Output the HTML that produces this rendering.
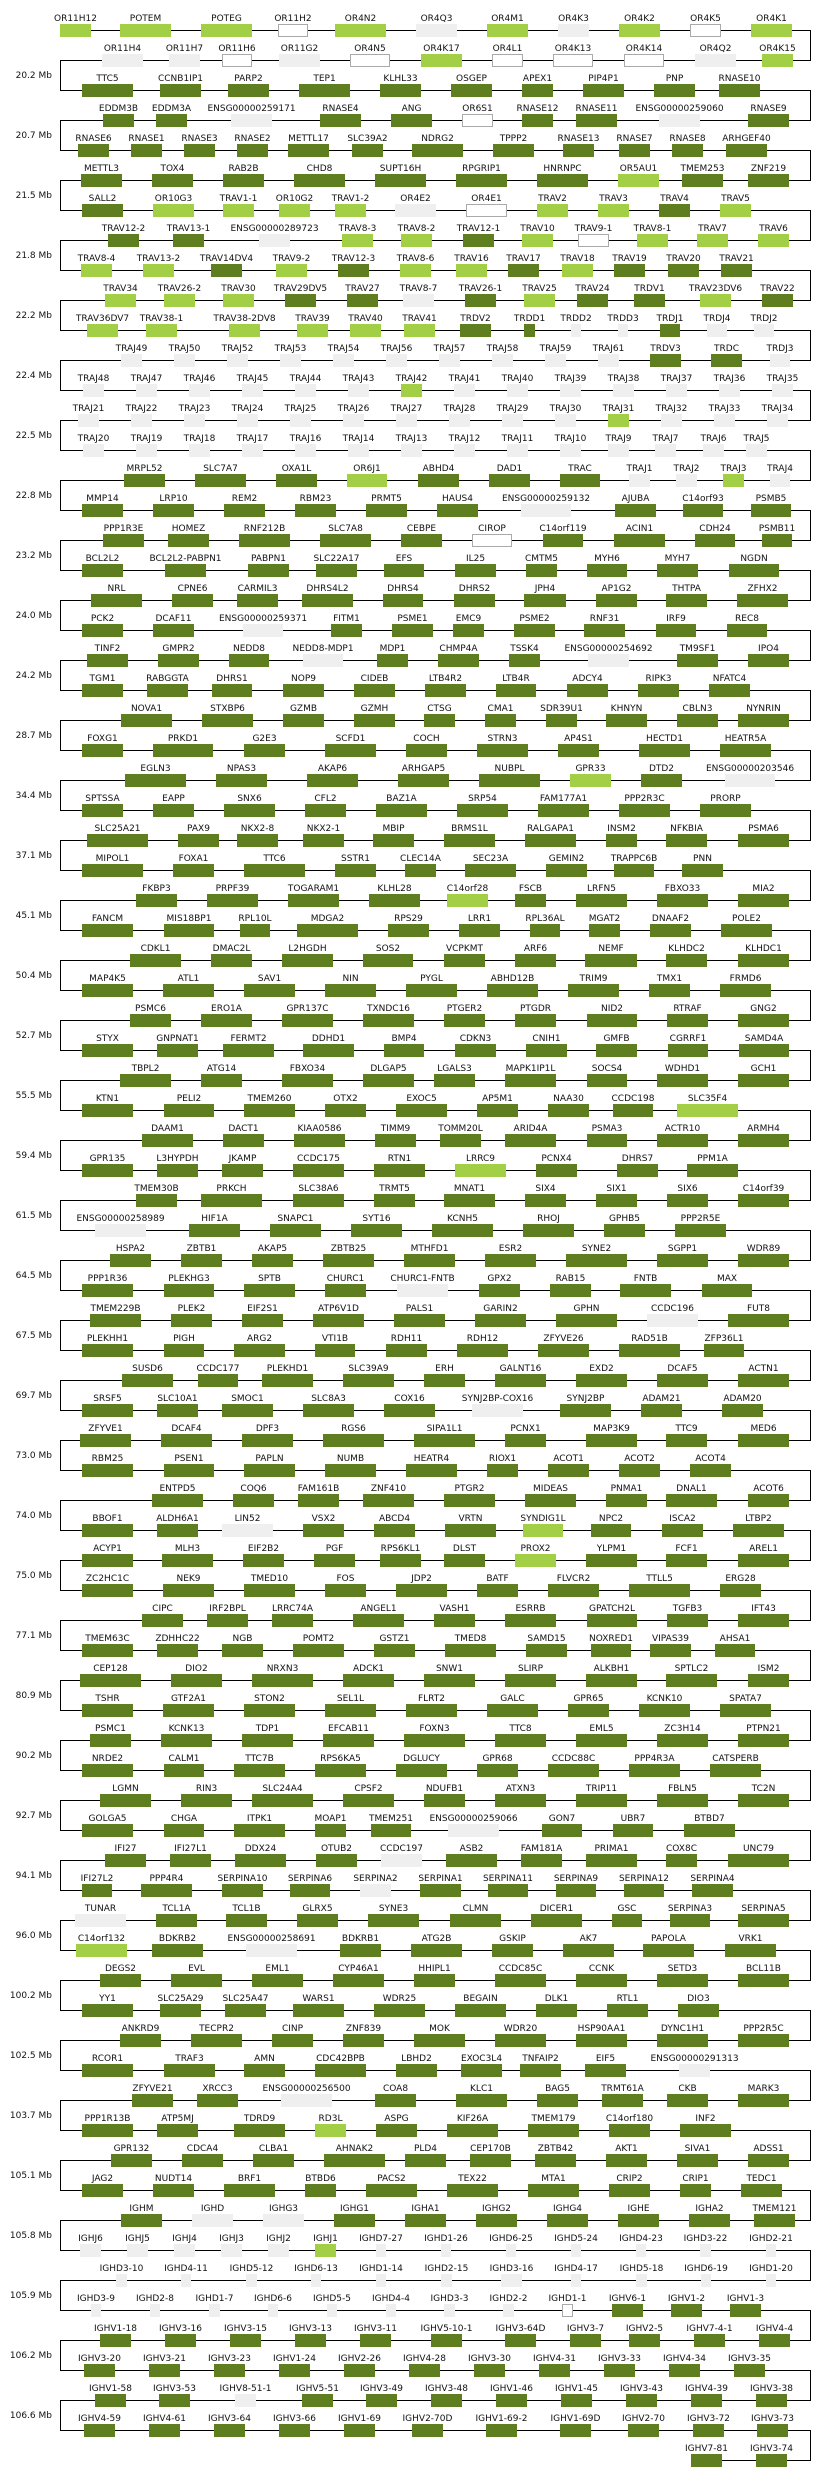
<!DOCTYPE html>
<html><head><meta charset="utf-8"><style>
html,body{margin:0;padding:0;background:#fff}
svg{display:block}
text{font-family:"DejaVu Sans",Verdana,sans-serif;font-size:9px;text-anchor:middle;fill:#111}
text.mb{text-anchor:end}
.d{fill:#5f7e1f}.l{fill:#a3cf47}.g{fill:#efefef}.w{fill:#fff;stroke:#aaa;stroke-width:1}
</style></head><body>
<svg width="820" height="2472" viewBox="0 0 820 2472" xmlns="http://www.w3.org/2000/svg">
<path d="M60.5 30.5H810.5V60.5H60.5V90.5H810.5V120.5H60.5V150.5H810.5V180.5H60.5V210.5H810.5V240.5H60.5V270.5H810.5V300.5H60.5V330.5H810.5V360.5H60.5V390.5H810.5V420.5H60.5V450.5H810.5V480.5H60.5V510.5H810.5V540.5H60.5V570.5H810.5V600.5H60.5V630.5H810.5V660.5H60.5V690.5H810.5V720.5H60.5V750.5H810.5V780.5H60.5V810.5H810.5V840.5H60.5V870.5H810.5V900.5H60.5V930.5H810.5V960.5H60.5V990.5H810.5V1020.5H60.5V1050.5H810.5V1080.5H60.5V1110.5H810.5V1140.5H60.5V1170.5H810.5V1200.5H60.5V1230.5H810.5V1260.5H60.5V1290.5H810.5V1320.5H60.5V1350.5H810.5V1380.5H60.5V1410.5H810.5V1440.5H60.5V1470.5H810.5V1500.5H60.5V1530.5H810.5V1560.5H60.5V1590.5H810.5V1620.5H60.5V1650.5H810.5V1680.5H60.5V1710.5H810.5V1740.5H60.5V1770.5H810.5V1800.5H60.5V1830.5H810.5V1860.5H60.5V1890.5H810.5V1920.5H60.5V1950.5H810.5V1980.5H60.5V2010.5H810.5V2040.5H60.5V2070.5H810.5V2100.5H60.5V2130.5H810.5V2160.5H60.5V2190.5H810.5V2220.5H60.5V2250.5H810.5V2280.5H60.5V2310.5H810.5V2340.5H60.5V2370.5H810.5V2400.5H60.5V2430.5H810.5V2460.5H691" fill="none" stroke="#000" stroke-width="1"/>

<text class="mb" x="52" y="78">20.2 Mb</text>
<text class="mb" x="52" y="138">20.7 Mb</text>
<text class="mb" x="52" y="198">21.5 Mb</text>
<text class="mb" x="52" y="258">21.8 Mb</text>
<text class="mb" x="52" y="318">22.2 Mb</text>
<text class="mb" x="52" y="378">22.4 Mb</text>
<text class="mb" x="52" y="438">22.5 Mb</text>
<text class="mb" x="52" y="498">22.8 Mb</text>
<text class="mb" x="52" y="558">23.2 Mb</text>
<text class="mb" x="52" y="618">24.0 Mb</text>
<text class="mb" x="52" y="678">24.2 Mb</text>
<text class="mb" x="52" y="738">28.7 Mb</text>
<text class="mb" x="52" y="798">34.4 Mb</text>
<text class="mb" x="52" y="858">37.1 Mb</text>
<text class="mb" x="52" y="918">45.1 Mb</text>
<text class="mb" x="52" y="978">50.4 Mb</text>
<text class="mb" x="52" y="1038">52.7 Mb</text>
<text class="mb" x="52" y="1098">55.5 Mb</text>
<text class="mb" x="52" y="1158">59.4 Mb</text>
<text class="mb" x="52" y="1218">61.5 Mb</text>
<text class="mb" x="52" y="1278">64.5 Mb</text>
<text class="mb" x="52" y="1338">67.5 Mb</text>
<text class="mb" x="52" y="1398">69.7 Mb</text>
<text class="mb" x="52" y="1458">73.0 Mb</text>
<text class="mb" x="52" y="1518">74.0 Mb</text>
<text class="mb" x="52" y="1578">75.0 Mb</text>
<text class="mb" x="52" y="1638">77.1 Mb</text>
<text class="mb" x="52" y="1698">80.9 Mb</text>
<text class="mb" x="52" y="1758">90.2 Mb</text>
<text class="mb" x="52" y="1818">92.7 Mb</text>
<text class="mb" x="52" y="1878">94.1 Mb</text>
<text class="mb" x="52" y="1938">96.0 Mb</text>
<text class="mb" x="52" y="1998">100.2 Mb</text>
<text class="mb" x="52" y="2058">102.5 Mb</text>
<text class="mb" x="52" y="2118">103.7 Mb</text>
<text class="mb" x="52" y="2178">105.1 Mb</text>
<text class="mb" x="52" y="2238">105.8 Mb</text>
<text class="mb" x="52" y="2298">105.9 Mb</text>
<text class="mb" x="52" y="2358">106.2 Mb</text>
<text class="mb" x="52" y="2418">106.6 Mb</text>

<g transform="translate(0,30)">
<rect class="l" x="60" y="-6" width="31" height="13"/><text x="75.5" y="-9">OR11H12</text>
<rect class="l" x="120" y="-6" width="51" height="13"/><text x="145.5" y="-9">POTEM</text>
<rect class="l" x="201" y="-6" width="51" height="13"/><text x="226.5" y="-9">POTEG</text>
<rect class="w" x="278.5" y="-5.5" width="29" height="12"/><text x="293" y="-9">OR11H2</text>
<rect class="l" x="335" y="-6" width="51" height="13"/><text x="360.5" y="-9">OR4N2</text>
<rect class="g" x="416" y="-6" width="41" height="13"/><text x="436.5" y="-9">OR4Q3</text>
<rect class="l" x="487" y="-6" width="41" height="13"/><text x="507.5" y="-9">OR4M1</text>
<rect class="g" x="558" y="-6" width="31" height="13"/><text x="573.5" y="-9">OR4K3</text>
<rect class="l" x="619" y="-6" width="41" height="13"/><text x="639.5" y="-9">OR4K2</text>
<rect class="w" x="690.5" y="-5.5" width="30" height="12"/><text x="705.5" y="-9">OR4K5</text>
<rect class="l" x="751" y="-6" width="41" height="13"/><text x="771.5" y="-9">OR4K1</text>
</g>
<g transform="translate(0,60)">
<rect class="g" x="102" y="-6" width="41" height="13"/><text x="122.5" y="-9">OR11H4</text>
<rect class="g" x="169" y="-6" width="31" height="13"/><text x="184.5" y="-9">OR11H7</text>
<rect class="w" x="222.5" y="-5.5" width="29" height="12"/><text x="237" y="-9">OR11H6</text>
<rect class="g" x="279" y="-6" width="41" height="13"/><text x="299.5" y="-9">OR11G2</text>
<rect class="w" x="350.5" y="-5.5" width="39" height="12"/><text x="370" y="-9">OR4N5</text>
<rect class="l" x="421" y="-6" width="41" height="13"/><text x="441.5" y="-9">OR4K17</text>
<rect class="w" x="492.5" y="-5.5" width="30" height="12"/><text x="507.5" y="-9">OR4L1</text>
<rect class="w" x="553.5" y="-5.5" width="39" height="12"/><text x="573" y="-9">OR4K13</text>
<rect class="w" x="624.5" y="-5.5" width="39" height="12"/><text x="644" y="-9">OR4K14</text>
<rect class="g" x="695" y="-6" width="41" height="13"/><text x="715.5" y="-9">OR4Q2</text>
<rect class="l" x="762" y="-6" width="31" height="13"/><text x="777.5" y="-9">OR4K15</text>
</g>
<g transform="translate(0,90)">
<rect class="d" x="82" y="-6" width="51" height="13"/><text x="107.5" y="-9">TTC5</text>
<rect class="d" x="160" y="-6" width="41" height="13"/><text x="180.5" y="-9">CCNB1IP1</text>
<rect class="d" x="228" y="-6" width="41" height="13"/><text x="248.5" y="-9">PARP2</text>
<rect class="d" x="299" y="-6" width="51" height="13"/><text x="324.5" y="-9">TEP1</text>
<rect class="d" x="380" y="-6" width="41" height="13"/><text x="400.5" y="-9">KLHL33</text>
<rect class="d" x="451" y="-6" width="41" height="13"/><text x="471.5" y="-9">OSGEP</text>
<rect class="d" x="522" y="-6" width="31" height="13"/><text x="537.5" y="-9">APEX1</text>
<rect class="d" x="583" y="-6" width="41" height="13"/><text x="603.5" y="-9">PIP4P1</text>
<rect class="d" x="654" y="-6" width="41" height="13"/><text x="674.5" y="-9">PNP</text>
<rect class="d" x="719" y="-6" width="41" height="13"/><text x="739.5" y="-9">RNASE10</text>
</g>
<g transform="translate(0,120)">
<rect class="d" x="103" y="-6" width="31" height="13"/><text x="118.5" y="-9">EDDM3B</text>
<rect class="d" x="156" y="-6" width="31" height="13"/><text x="171.5" y="-9">EDDM3A</text>
<rect class="g" x="231" y="-6" width="41" height="13"/><text x="251.5" y="-9">ENSG00000259171</text>
<rect class="d" x="320" y="-6" width="41" height="13"/><text x="340.5" y="-9">RNASE4</text>
<rect class="d" x="391" y="-6" width="41" height="13"/><text x="411.5" y="-9">ANG</text>
<rect class="w" x="462.5" y="-5.5" width="30" height="12"/><text x="477.5" y="-9">OR6S1</text>
<rect class="d" x="522" y="-6" width="31" height="13"/><text x="537.5" y="-9">RNASE12</text>
<rect class="d" x="576" y="-6" width="41" height="13"/><text x="596.5" y="-9">RNASE11</text>
<rect class="g" x="659" y="-6" width="41" height="13"/><text x="679.5" y="-9">ENSG00000259060</text>
<rect class="d" x="748" y="-6" width="41" height="13"/><text x="768.5" y="-9">RNASE9</text>
</g>
<g transform="translate(0,150)">
<rect class="d" x="78" y="-6" width="31" height="13"/><text x="93.5" y="-9">RNASE6</text>
<rect class="d" x="131" y="-6" width="31" height="13"/><text x="146.5" y="-9">RNASE1</text>
<rect class="d" x="184" y="-6" width="31" height="13"/><text x="199.5" y="-9">RNASE3</text>
<rect class="d" x="237" y="-6" width="31" height="13"/><text x="252.5" y="-9">RNASE2</text>
<rect class="d" x="288" y="-6" width="41" height="13"/><text x="308.5" y="-9">METTL17</text>
<rect class="d" x="352" y="-6" width="31" height="13"/><text x="367.5" y="-9">SLC39A2</text>
<rect class="d" x="412" y="-6" width="51" height="13"/><text x="437.5" y="-9">NDRG2</text>
<rect class="d" x="493" y="-6" width="41" height="13"/><text x="513.5" y="-9">TPPP2</text>
<rect class="d" x="563" y="-6" width="31" height="13"/><text x="578.5" y="-9">RNASE13</text>
<rect class="d" x="619" y="-6" width="31" height="13"/><text x="634.5" y="-9">RNASE7</text>
<rect class="d" x="672" y="-6" width="31" height="13"/><text x="687.5" y="-9">RNASE8</text>
<rect class="d" x="726" y="-6" width="41" height="13"/><text x="746.5" y="-9">ARHGEF40</text>
</g>
<g transform="translate(0,180)">
<rect class="d" x="81" y="-6" width="41" height="13"/><text x="101.5" y="-9">METTL3</text>
<rect class="d" x="152" y="-6" width="41" height="13"/><text x="172.5" y="-9">TOX4</text>
<rect class="d" x="223" y="-6" width="41" height="13"/><text x="243.5" y="-9">RAB2B</text>
<rect class="d" x="294" y="-6" width="51" height="13"/><text x="319.5" y="-9">CHD8</text>
<rect class="d" x="375" y="-6" width="51" height="13"/><text x="400.5" y="-9">SUPT16H</text>
<rect class="d" x="456" y="-6" width="51" height="13"/><text x="481.5" y="-9">RPGRIP1</text>
<rect class="d" x="537" y="-6" width="51" height="13"/><text x="562.5" y="-9">HNRNPC</text>
<rect class="l" x="618" y="-6" width="41" height="13"/><text x="638.5" y="-9">OR5AU1</text>
<rect class="d" x="682" y="-6" width="41" height="13"/><text x="702.5" y="-9">TMEM253</text>
<rect class="d" x="748" y="-6" width="41" height="13"/><text x="768.5" y="-9">ZNF219</text>
</g>
<g transform="translate(0,210)">
<rect class="d" x="82" y="-6" width="41" height="13"/><text x="102.5" y="-9">SALL2</text>
<rect class="l" x="153" y="-6" width="41" height="13"/><text x="173.5" y="-9">OR10G3</text>
<rect class="l" x="223" y="-6" width="31" height="13"/><text x="238.5" y="-9">TRAV1-1</text>
<rect class="l" x="279" y="-6" width="31" height="13"/><text x="294.5" y="-9">OR10G2</text>
<rect class="l" x="335" y="-6" width="31" height="13"/><text x="350.5" y="-9">TRAV1-2</text>
<rect class="g" x="395" y="-6" width="41" height="13"/><text x="415.5" y="-9">OR4E2</text>
<rect class="w" x="466.5" y="-5.5" width="40" height="12"/><text x="486.5" y="-9">OR4E1</text>
<rect class="l" x="537" y="-6" width="31" height="13"/><text x="552.5" y="-9">TRAV2</text>
<rect class="l" x="598" y="-6" width="31" height="13"/><text x="613.5" y="-9">TRAV3</text>
<rect class="d" x="659" y="-6" width="31" height="13"/><text x="674.5" y="-9">TRAV4</text>
<rect class="l" x="720" y="-6" width="31" height="13"/><text x="735.5" y="-9">TRAV5</text>
</g>
<g transform="translate(0,240)">
<rect class="d" x="108" y="-6" width="31" height="13"/><text x="123.5" y="-9">TRAV12-2</text>
<rect class="d" x="173" y="-6" width="31" height="13"/><text x="188.5" y="-9">TRAV13-1</text>
<rect class="g" x="259" y="-6" width="31" height="13"/><text x="274.5" y="-9">ENSG00000289723</text>
<rect class="l" x="342" y="-6" width="31" height="13"/><text x="357.5" y="-9">TRAV8-3</text>
<rect class="l" x="401" y="-6" width="31" height="13"/><text x="416.5" y="-9">TRAV8-2</text>
<rect class="d" x="463" y="-6" width="31" height="13"/><text x="478.5" y="-9">TRAV12-1</text>
<rect class="l" x="522" y="-6" width="31" height="13"/><text x="537.5" y="-9">TRAV10</text>
<rect class="w" x="578.5" y="-5.5" width="30" height="12"/><text x="593.5" y="-9">TRAV9-1</text>
<rect class="l" x="637" y="-6" width="31" height="13"/><text x="652.5" y="-9">TRAV8-1</text>
<rect class="l" x="697" y="-6" width="31" height="13"/><text x="712.5" y="-9">TRAV7</text>
<rect class="l" x="758" y="-6" width="31" height="13"/><text x="773.5" y="-9">TRAV6</text>
</g>
<g transform="translate(0,270)">
<rect class="l" x="81" y="-6" width="31" height="13"/><text x="96.5" y="-9">TRAV8-4</text>
<rect class="l" x="143" y="-6" width="31" height="13"/><text x="158.5" y="-9">TRAV13-2</text>
<rect class="d" x="211" y="-6" width="31" height="13"/><text x="226.5" y="-9">TRAV14DV4</text>
<rect class="l" x="276" y="-6" width="31" height="13"/><text x="291.5" y="-9">TRAV9-2</text>
<rect class="d" x="338" y="-6" width="31" height="13"/><text x="353.5" y="-9">TRAV12-3</text>
<rect class="l" x="400" y="-6" width="31" height="13"/><text x="415.5" y="-9">TRAV8-6</text>
<rect class="l" x="456" y="-6" width="31" height="13"/><text x="471.5" y="-9">TRAV16</text>
<rect class="d" x="508" y="-6" width="31" height="13"/><text x="523.5" y="-9">TRAV17</text>
<rect class="l" x="562" y="-6" width="31" height="13"/><text x="577.5" y="-9">TRAV18</text>
<rect class="d" x="614" y="-6" width="31" height="13"/><text x="629.5" y="-9">TRAV19</text>
<rect class="d" x="668" y="-6" width="31" height="13"/><text x="683.5" y="-9">TRAV20</text>
<rect class="d" x="721" y="-6" width="31" height="13"/><text x="736.5" y="-9">TRAV21</text>
</g>
<g transform="translate(0,300)">
<rect class="l" x="105" y="-6" width="31" height="13"/><text x="120.5" y="-9">TRAV34</text>
<rect class="l" x="164" y="-6" width="31" height="13"/><text x="179.5" y="-9">TRAV26-2</text>
<rect class="l" x="223" y="-6" width="31" height="13"/><text x="238.5" y="-9">TRAV30</text>
<rect class="d" x="285" y="-6" width="31" height="13"/><text x="300.5" y="-9">TRAV29DV5</text>
<rect class="d" x="347" y="-6" width="31" height="13"/><text x="362.5" y="-9">TRAV27</text>
<rect class="g" x="403" y="-6" width="31" height="13"/><text x="418.5" y="-9">TRAV8-7</text>
<rect class="d" x="465" y="-6" width="31" height="13"/><text x="480.5" y="-9">TRAV26-1</text>
<rect class="l" x="524" y="-6" width="31" height="13"/><text x="539.5" y="-9">TRAV25</text>
<rect class="d" x="577" y="-6" width="31" height="13"/><text x="592.5" y="-9">TRAV24</text>
<rect class="d" x="634" y="-6" width="31" height="13"/><text x="649.5" y="-9">TRDV1</text>
<rect class="l" x="700" y="-6" width="31" height="13"/><text x="715.5" y="-9">TRAV23DV6</text>
<rect class="d" x="762" y="-6" width="31" height="13"/><text x="777.5" y="-9">TRAV22</text>
</g>
<g transform="translate(0,330)">
<rect class="l" x="87" y="-6" width="31" height="13"/><text x="102.5" y="-9">TRAV36DV7</text>
<rect class="l" x="146" y="-6" width="31" height="13"/><text x="161.5" y="-9">TRAV38-1</text>
<rect class="l" x="229" y="-6" width="31" height="13"/><text x="244.5" y="-9">TRAV38-2DV8</text>
<rect class="l" x="297" y="-6" width="31" height="13"/><text x="312.5" y="-9">TRAV39</text>
<rect class="l" x="350" y="-6" width="31" height="13"/><text x="365.5" y="-9">TRAV40</text>
<rect class="l" x="404" y="-6" width="31" height="13"/><text x="419.5" y="-9">TRAV41</text>
<rect class="d" x="460" y="-6" width="31" height="13"/><text x="475.5" y="-9">TRDV2</text>
<rect class="d" x="524" y="-6" width="11" height="13"/><text x="529.5" y="-9">TRDD1</text>
<rect class="g" x="571" y="-6" width="10" height="13"/><text x="576" y="-9">TRDD2</text>
<rect class="g" x="618" y="-6" width="10" height="13"/><text x="623" y="-9">TRDD3</text>
<rect class="d" x="660" y="-6" width="20" height="13"/><text x="670" y="-9">TRDJ1</text>
<rect class="g" x="707" y="-6" width="20" height="13"/><text x="717" y="-9">TRDJ4</text>
<rect class="g" x="754" y="-6" width="20" height="13"/><text x="764" y="-9">TRDJ2</text>
</g>
<g transform="translate(0,360)">
<rect class="g" x="121" y="-6" width="21" height="13"/><text x="131.5" y="-9">TRAJ49</text>
<rect class="g" x="174" y="-6" width="21" height="13"/><text x="184.5" y="-9">TRAJ50</text>
<rect class="g" x="227" y="-6" width="21" height="13"/><text x="237.5" y="-9">TRAJ52</text>
<rect class="g" x="280" y="-6" width="21" height="13"/><text x="290.5" y="-9">TRAJ53</text>
<rect class="g" x="333" y="-6" width="21" height="13"/><text x="343.5" y="-9">TRAJ54</text>
<rect class="g" x="386" y="-6" width="21" height="13"/><text x="396.5" y="-9">TRAJ56</text>
<rect class="g" x="439" y="-6" width="21" height="13"/><text x="449.5" y="-9">TRAJ57</text>
<rect class="g" x="492" y="-6" width="21" height="13"/><text x="502.5" y="-9">TRAJ58</text>
<rect class="g" x="545" y="-6" width="21" height="13"/><text x="555.5" y="-9">TRAJ59</text>
<rect class="g" x="598" y="-6" width="21" height="13"/><text x="608.5" y="-9">TRAJ61</text>
<rect class="d" x="650" y="-6" width="31" height="13"/><text x="665.5" y="-9">TRDV3</text>
<rect class="d" x="711" y="-6" width="31" height="13"/><text x="726.5" y="-9">TRDC</text>
<rect class="g" x="770" y="-6" width="20" height="13"/><text x="780" y="-9">TRDJ3</text>
</g>
<g transform="translate(0,390)">
<rect class="g" x="83" y="-6" width="21" height="13"/><text x="93.5" y="-9">TRAJ48</text>
<rect class="g" x="136" y="-6" width="21" height="13"/><text x="146.5" y="-9">TRAJ47</text>
<rect class="g" x="189" y="-6" width="21" height="13"/><text x="199.5" y="-9">TRAJ46</text>
<rect class="g" x="242" y="-6" width="21" height="13"/><text x="252.5" y="-9">TRAJ45</text>
<rect class="g" x="295" y="-6" width="21" height="13"/><text x="305.5" y="-9">TRAJ44</text>
<rect class="g" x="348" y="-6" width="21" height="13"/><text x="358.5" y="-9">TRAJ43</text>
<rect class="l" x="401" y="-6" width="21" height="13"/><text x="411.5" y="-9">TRAJ42</text>
<rect class="g" x="454" y="-6" width="21" height="13"/><text x="464.5" y="-9">TRAJ41</text>
<rect class="g" x="507" y="-6" width="21" height="13"/><text x="517.5" y="-9">TRAJ40</text>
<rect class="g" x="560" y="-6" width="21" height="13"/><text x="570.5" y="-9">TRAJ39</text>
<rect class="g" x="613" y="-6" width="21" height="13"/><text x="623.5" y="-9">TRAJ38</text>
<rect class="g" x="666" y="-6" width="21" height="13"/><text x="676.5" y="-9">TRAJ37</text>
<rect class="g" x="719" y="-6" width="21" height="13"/><text x="729.5" y="-9">TRAJ36</text>
<rect class="g" x="772" y="-6" width="21" height="13"/><text x="782.5" y="-9">TRAJ35</text>
</g>
<g transform="translate(0,420)">
<rect class="g" x="78" y="-6" width="21" height="13"/><text x="88.5" y="-9">TRAJ21</text>
<rect class="g" x="131" y="-6" width="21" height="13"/><text x="141.5" y="-9">TRAJ22</text>
<rect class="g" x="184" y="-6" width="21" height="13"/><text x="194.5" y="-9">TRAJ23</text>
<rect class="g" x="237" y="-6" width="21" height="13"/><text x="247.5" y="-9">TRAJ24</text>
<rect class="g" x="290" y="-6" width="21" height="13"/><text x="300.5" y="-9">TRAJ25</text>
<rect class="g" x="343" y="-6" width="21" height="13"/><text x="353.5" y="-9">TRAJ26</text>
<rect class="g" x="396" y="-6" width="21" height="13"/><text x="406.5" y="-9">TRAJ27</text>
<rect class="g" x="449" y="-6" width="21" height="13"/><text x="459.5" y="-9">TRAJ28</text>
<rect class="g" x="502" y="-6" width="21" height="13"/><text x="512.5" y="-9">TRAJ29</text>
<rect class="g" x="555" y="-6" width="21" height="13"/><text x="565.5" y="-9">TRAJ30</text>
<rect class="l" x="608" y="-6" width="21" height="13"/><text x="618.5" y="-9">TRAJ31</text>
<rect class="g" x="661" y="-6" width="21" height="13"/><text x="671.5" y="-9">TRAJ32</text>
<rect class="g" x="714" y="-6" width="21" height="13"/><text x="724.5" y="-9">TRAJ33</text>
<rect class="g" x="767" y="-6" width="21" height="13"/><text x="777.5" y="-9">TRAJ34</text>
</g>
<g transform="translate(0,450)">
<rect class="g" x="83" y="-6" width="21" height="13"/><text x="93.5" y="-9">TRAJ20</text>
<rect class="g" x="136" y="-6" width="21" height="13"/><text x="146.5" y="-9">TRAJ19</text>
<rect class="g" x="189" y="-6" width="21" height="13"/><text x="199.5" y="-9">TRAJ18</text>
<rect class="g" x="242" y="-6" width="21" height="13"/><text x="252.5" y="-9">TRAJ17</text>
<rect class="g" x="295" y="-6" width="21" height="13"/><text x="305.5" y="-9">TRAJ16</text>
<rect class="g" x="348" y="-6" width="21" height="13"/><text x="358.5" y="-9">TRAJ14</text>
<rect class="g" x="401" y="-6" width="21" height="13"/><text x="411.5" y="-9">TRAJ13</text>
<rect class="g" x="454" y="-6" width="21" height="13"/><text x="464.5" y="-9">TRAJ12</text>
<rect class="g" x="507" y="-6" width="21" height="13"/><text x="517.5" y="-9">TRAJ11</text>
<rect class="g" x="560" y="-6" width="21" height="13"/><text x="570.5" y="-9">TRAJ10</text>
<rect class="g" x="608" y="-6" width="21" height="13"/><text x="618.5" y="-9">TRAJ9</text>
<rect class="g" x="655" y="-6" width="21" height="13"/><text x="665.5" y="-9">TRAJ7</text>
<rect class="g" x="703" y="-6" width="21" height="13"/><text x="713.5" y="-9">TRAJ6</text>
<rect class="g" x="746" y="-6" width="21" height="13"/><text x="756.5" y="-9">TRAJ5</text>
</g>
<g transform="translate(0,480)">
<rect class="d" x="124" y="-6" width="41" height="13"/><text x="144.5" y="-9">MRPL52</text>
<rect class="d" x="195" y="-6" width="51" height="13"/><text x="220.5" y="-9">SLC7A7</text>
<rect class="d" x="276" y="-6" width="41" height="13"/><text x="296.5" y="-9">OXA1L</text>
<rect class="l" x="347" y="-6" width="40" height="13"/><text x="367" y="-9">OR6J1</text>
<rect class="d" x="418" y="-6" width="41" height="13"/><text x="438.5" y="-9">ABHD4</text>
<rect class="d" x="489" y="-6" width="41" height="13"/><text x="509.5" y="-9">DAD1</text>
<rect class="d" x="560" y="-6" width="40" height="13"/><text x="580" y="-9">TRAC</text>
<rect class="g" x="629" y="-6" width="21" height="13"/><text x="639.5" y="-9">TRAJ1</text>
<rect class="g" x="676" y="-6" width="21" height="13"/><text x="686.5" y="-9">TRAJ2</text>
<rect class="l" x="723" y="-6" width="21" height="13"/><text x="733.5" y="-9">TRAJ3</text>
<rect class="g" x="770" y="-6" width="20" height="13"/><text x="780" y="-9">TRAJ4</text>
</g>
<g transform="translate(0,510)">
<rect class="d" x="82" y="-6" width="41" height="13"/><text x="102.5" y="-9">MMP14</text>
<rect class="d" x="153" y="-6" width="41" height="13"/><text x="173.5" y="-9">LRP10</text>
<rect class="d" x="224" y="-6" width="41" height="13"/><text x="244.5" y="-9">REM2</text>
<rect class="d" x="295" y="-6" width="41" height="13"/><text x="315.5" y="-9">RBM23</text>
<rect class="d" x="366" y="-6" width="41" height="13"/><text x="386.5" y="-9">PRMT5</text>
<rect class="d" x="437" y="-6" width="41" height="13"/><text x="457.5" y="-9">HAUS4</text>
<rect class="g" x="521" y="-6" width="50" height="13"/><text x="546" y="-9">ENSG00000259132</text>
<rect class="d" x="615" y="-6" width="41" height="13"/><text x="635.5" y="-9">AJUBA</text>
<rect class="d" x="683" y="-6" width="40" height="13"/><text x="703" y="-9">C14orf93</text>
<rect class="d" x="751" y="-6" width="40" height="13"/><text x="771" y="-9">PSMB5</text>
</g>
<g transform="translate(0,540)">
<rect class="d" x="103" y="-6" width="41" height="13"/><text x="123.5" y="-9">PPP1R3E</text>
<rect class="d" x="168" y="-6" width="41" height="13"/><text x="188.5" y="-9">HOMEZ</text>
<rect class="d" x="239" y="-6" width="51" height="13"/><text x="264.5" y="-9">RNF212B</text>
<rect class="d" x="320" y="-6" width="51" height="13"/><text x="345.5" y="-9">SLC7A8</text>
<rect class="d" x="401" y="-6" width="41" height="13"/><text x="421.5" y="-9">CEBPE</text>
<rect class="w" x="472.5" y="-5.5" width="39" height="12"/><text x="492" y="-9">CIROP</text>
<rect class="d" x="543" y="-6" width="40" height="13"/><text x="563" y="-9">C14orf119</text>
<rect class="d" x="614" y="-6" width="51" height="13"/><text x="639.5" y="-9">ACIN1</text>
<rect class="d" x="695" y="-6" width="40" height="13"/><text x="715" y="-9">CDH24</text>
<rect class="d" x="762" y="-6" width="30" height="13"/><text x="777" y="-9">PSMB11</text>
</g>
<g transform="translate(0,570)">
<rect class="d" x="82" y="-6" width="41" height="13"/><text x="102.5" y="-9">BCL2L2</text>
<rect class="d" x="165" y="-6" width="41" height="13"/><text x="185.5" y="-9">BCL2L2-PABPN1</text>
<rect class="d" x="248" y="-6" width="41" height="13"/><text x="268.5" y="-9">PABPN1</text>
<rect class="d" x="316" y="-6" width="41" height="13"/><text x="336.5" y="-9">SLC22A17</text>
<rect class="d" x="384" y="-6" width="40" height="13"/><text x="404" y="-9">EFS</text>
<rect class="d" x="455" y="-6" width="41" height="13"/><text x="475.5" y="-9">IL25</text>
<rect class="d" x="526" y="-6" width="31" height="13"/><text x="541.5" y="-9">CMTM5</text>
<rect class="d" x="587" y="-6" width="40" height="13"/><text x="607" y="-9">MYH6</text>
<rect class="d" x="657" y="-6" width="41" height="13"/><text x="677.5" y="-9">MYH7</text>
<rect class="d" x="729" y="-6" width="50" height="13"/><text x="754" y="-9">NGDN</text>
</g>
<g transform="translate(0,600)">
<rect class="d" x="91" y="-6" width="51" height="13"/><text x="116.5" y="-9">NRL</text>
<rect class="d" x="172" y="-6" width="41" height="13"/><text x="192.5" y="-9">CPNE6</text>
<rect class="d" x="237" y="-6" width="41" height="13"/><text x="257.5" y="-9">CARMIL3</text>
<rect class="d" x="302" y="-6" width="51" height="13"/><text x="327.5" y="-9">DHRS4L2</text>
<rect class="d" x="383" y="-6" width="40" height="13"/><text x="403" y="-9">DHRS4</text>
<rect class="d" x="454" y="-6" width="41" height="13"/><text x="474.5" y="-9">DHRS2</text>
<rect class="d" x="524" y="-6" width="42" height="13"/><text x="545" y="-9">JPH4</text>
<rect class="d" x="596" y="-6" width="41" height="13"/><text x="616.5" y="-9">AP1G2</text>
<rect class="d" x="666" y="-6" width="41" height="13"/><text x="686.5" y="-9">THTPA</text>
<rect class="d" x="737" y="-6" width="51" height="13"/><text x="762.5" y="-9">ZFHX2</text>
</g>
<g transform="translate(0,630)">
<rect class="d" x="82" y="-6" width="41" height="13"/><text x="102.5" y="-9">PCK2</text>
<rect class="d" x="153" y="-6" width="41" height="13"/><text x="173.5" y="-9">DCAF11</text>
<rect class="g" x="243" y="-6" width="40" height="13"/><text x="263" y="-9">ENSG00000259371</text>
<rect class="d" x="331" y="-6" width="31" height="13"/><text x="346.5" y="-9">FITM1</text>
<rect class="d" x="392" y="-6" width="41" height="13"/><text x="412.5" y="-9">PSME1</text>
<rect class="d" x="453" y="-6" width="31" height="13"/><text x="468.5" y="-9">EMC9</text>
<rect class="d" x="514" y="-6" width="41" height="13"/><text x="534.5" y="-9">PSME2</text>
<rect class="d" x="584" y="-6" width="41" height="13"/><text x="604.5" y="-9">RNF31</text>
<rect class="d" x="656" y="-6" width="40" height="13"/><text x="676" y="-9">IRF9</text>
<rect class="d" x="727" y="-6" width="40" height="13"/><text x="747" y="-9">REC8</text>
</g>
<g transform="translate(0,660)">
<rect class="d" x="87" y="-6" width="41" height="13"/><text x="107.5" y="-9">TINF2</text>
<rect class="d" x="158" y="-6" width="41" height="13"/><text x="178.5" y="-9">GMPR2</text>
<rect class="d" x="229" y="-6" width="40" height="13"/><text x="249" y="-9">NEDD8</text>
<rect class="g" x="303" y="-6" width="40" height="13"/><text x="323" y="-9">NEDD8-MDP1</text>
<rect class="d" x="377" y="-6" width="31" height="13"/><text x="392.5" y="-9">MDP1</text>
<rect class="d" x="438" y="-6" width="41" height="13"/><text x="458.5" y="-9">CHMP4A</text>
<rect class="d" x="509" y="-6" width="31" height="13"/><text x="524.5" y="-9">TSSK4</text>
<rect class="g" x="588" y="-6" width="41" height="13"/><text x="608.5" y="-9">ENSG00000254692</text>
<rect class="d" x="677" y="-6" width="41" height="13"/><text x="697.5" y="-9">TM9SF1</text>
<rect class="d" x="748" y="-6" width="41" height="13"/><text x="768.5" y="-9">IPO4</text>
</g>
<g transform="translate(0,690)">
<rect class="d" x="82" y="-6" width="41" height="13"/><text x="102.5" y="-9">TGM1</text>
<rect class="d" x="147" y="-6" width="41" height="13"/><text x="167.5" y="-9">RABGGTA</text>
<rect class="d" x="212" y="-6" width="40" height="13"/><text x="232" y="-9">DHRS1</text>
<rect class="d" x="283" y="-6" width="41" height="13"/><text x="303.5" y="-9">NOP9</text>
<rect class="d" x="354" y="-6" width="41" height="13"/><text x="374.5" y="-9">CIDEB</text>
<rect class="d" x="425" y="-6" width="41" height="13"/><text x="445.5" y="-9">LTB4R2</text>
<rect class="d" x="496" y="-6" width="40" height="13"/><text x="516" y="-9">LTB4R</text>
<rect class="d" x="567" y="-6" width="41" height="13"/><text x="587.5" y="-9">ADCY4</text>
<rect class="d" x="638" y="-6" width="41" height="13"/><text x="658.5" y="-9">RIPK3</text>
<rect class="d" x="709" y="-6" width="41" height="13"/><text x="729.5" y="-9">NFATC4</text>
</g>
<g transform="translate(0,720)">
<rect class="d" x="121" y="-6" width="51" height="13"/><text x="146.5" y="-9">NOVA1</text>
<rect class="d" x="202" y="-6" width="51" height="13"/><text x="227.5" y="-9">STXBP6</text>
<rect class="d" x="283" y="-6" width="41" height="13"/><text x="303.5" y="-9">GZMB</text>
<rect class="d" x="354" y="-6" width="41" height="13"/><text x="374.5" y="-9">GZMH</text>
<rect class="d" x="424" y="-6" width="31" height="13"/><text x="439.5" y="-9">CTSG</text>
<rect class="d" x="485" y="-6" width="31" height="13"/><text x="500.5" y="-9">CMA1</text>
<rect class="d" x="546" y="-6" width="31" height="13"/><text x="561.5" y="-9">SDR39U1</text>
<rect class="d" x="606" y="-6" width="41" height="13"/><text x="626.5" y="-9">KHNYN</text>
<rect class="d" x="677" y="-6" width="41" height="13"/><text x="697.5" y="-9">CBLN3</text>
<rect class="d" x="738" y="-6" width="51" height="13"/><text x="763.5" y="-9">NYNRIN</text>
</g>
<g transform="translate(0,750)">
<rect class="d" x="82" y="-6" width="41" height="13"/><text x="102.5" y="-9">FOXG1</text>
<rect class="d" x="153" y="-6" width="60" height="13"/><text x="183" y="-9">PRKD1</text>
<rect class="d" x="244" y="-6" width="41" height="13"/><text x="264.5" y="-9">G2E3</text>
<rect class="d" x="325" y="-6" width="51" height="13"/><text x="350.5" y="-9">SCFD1</text>
<rect class="d" x="406" y="-6" width="41" height="13"/><text x="426.5" y="-9">COCH</text>
<rect class="d" x="477" y="-6" width="51" height="13"/><text x="502.5" y="-9">STRN3</text>
<rect class="d" x="558" y="-6" width="41" height="13"/><text x="578.5" y="-9">AP4S1</text>
<rect class="d" x="639" y="-6" width="51" height="13"/><text x="664.5" y="-9">HECTD1</text>
<rect class="d" x="720" y="-6" width="51" height="13"/><text x="745.5" y="-9">HEATR5A</text>
</g>
<g transform="translate(0,780)">
<rect class="d" x="125" y="-6" width="61" height="13"/><text x="155.5" y="-9">EGLN3</text>
<rect class="d" x="216" y="-6" width="51" height="13"/><text x="241.5" y="-9">NPAS3</text>
<rect class="d" x="307" y="-6" width="51" height="13"/><text x="332.5" y="-9">AKAP6</text>
<rect class="d" x="398" y="-6" width="51" height="13"/><text x="423.5" y="-9">ARHGAP5</text>
<rect class="d" x="479" y="-6" width="61" height="13"/><text x="509.5" y="-9">NUBPL</text>
<rect class="l" x="570" y="-6" width="41" height="13"/><text x="590.5" y="-9">GPR33</text>
<rect class="d" x="641" y="-6" width="41" height="13"/><text x="661.5" y="-9">DTD2</text>
<rect class="g" x="725" y="-6" width="50" height="13"/><text x="750" y="-9">ENSG00000203546</text>
</g>
<g transform="translate(0,810)">
<rect class="d" x="82" y="-6" width="41" height="13"/><text x="102.5" y="-9">SPTSSA</text>
<rect class="d" x="153" y="-6" width="41" height="13"/><text x="173.5" y="-9">EAPP</text>
<rect class="d" x="224" y="-6" width="51" height="13"/><text x="249.5" y="-9">SNX6</text>
<rect class="d" x="305" y="-6" width="41" height="13"/><text x="325.5" y="-9">CFL2</text>
<rect class="d" x="376" y="-6" width="51" height="13"/><text x="401.5" y="-9">BAZ1A</text>
<rect class="d" x="457" y="-6" width="51" height="13"/><text x="482.5" y="-9">SRP54</text>
<rect class="d" x="538" y="-6" width="51" height="13"/><text x="563.5" y="-9">FAM177A1</text>
<rect class="d" x="619" y="-6" width="51" height="13"/><text x="644.5" y="-9">PPP2R3C</text>
<rect class="d" x="700" y="-6" width="51" height="13"/><text x="725.5" y="-9">PRORP</text>
</g>
<g transform="translate(0,840)">
<rect class="d" x="87" y="-6" width="61" height="13"/><text x="117.5" y="-9">SLC25A21</text>
<rect class="d" x="178" y="-6" width="41" height="13"/><text x="198.5" y="-9">PAX9</text>
<rect class="d" x="237" y="-6" width="41" height="13"/><text x="257.5" y="-9">NKX2-8</text>
<rect class="d" x="303" y="-6" width="41" height="13"/><text x="323.5" y="-9">NKX2-1</text>
<rect class="d" x="373" y="-6" width="41" height="13"/><text x="393.5" y="-9">MBIP</text>
<rect class="d" x="444" y="-6" width="51" height="13"/><text x="469.5" y="-9">BRMS1L</text>
<rect class="d" x="525" y="-6" width="51" height="13"/><text x="550.5" y="-9">RALGAPA1</text>
<rect class="d" x="606" y="-6" width="31" height="13"/><text x="621.5" y="-9">INSM2</text>
<rect class="d" x="666" y="-6" width="41" height="13"/><text x="686.5" y="-9">NFKBIA</text>
<rect class="d" x="738" y="-6" width="51" height="13"/><text x="763.5" y="-9">PSMA6</text>
</g>
<g transform="translate(0,870)">
<rect class="d" x="82" y="-6" width="61" height="13"/><text x="112.5" y="-9">MIPOL1</text>
<rect class="d" x="173" y="-6" width="41" height="13"/><text x="193.5" y="-9">FOXA1</text>
<rect class="d" x="244" y="-6" width="61" height="13"/><text x="274.5" y="-9">TTC6</text>
<rect class="d" x="335" y="-6" width="41" height="13"/><text x="355.5" y="-9">SSTR1</text>
<rect class="d" x="405" y="-6" width="31" height="13"/><text x="420.5" y="-9">CLEC14A</text>
<rect class="d" x="465" y="-6" width="51" height="13"/><text x="490.5" y="-9">SEC23A</text>
<rect class="d" x="546" y="-6" width="41" height="13"/><text x="566.5" y="-9">GEMIN2</text>
<rect class="d" x="614" y="-6" width="40" height="13"/><text x="634" y="-9">TRAPPC6B</text>
<rect class="d" x="682" y="-6" width="41" height="13"/><text x="702.5" y="-9">PNN</text>
</g>
<g transform="translate(0,900)">
<rect class="d" x="136" y="-6" width="41" height="13"/><text x="156.5" y="-9">FKBP3</text>
<rect class="d" x="207" y="-6" width="51" height="13"/><text x="232.5" y="-9">PRPF39</text>
<rect class="d" x="288" y="-6" width="51" height="13"/><text x="313.5" y="-9">TOGARAM1</text>
<rect class="d" x="369" y="-6" width="51" height="13"/><text x="394.5" y="-9">KLHL28</text>
<rect class="l" x="447" y="-6" width="41" height="13"/><text x="467.5" y="-9">C14orf28</text>
<rect class="d" x="515" y="-6" width="31" height="13"/><text x="530.5" y="-9">FSCB</text>
<rect class="d" x="576" y="-6" width="51" height="13"/><text x="601.5" y="-9">LRFN5</text>
<rect class="d" x="657" y="-6" width="51" height="13"/><text x="682.5" y="-9">FBXO33</text>
<rect class="d" x="738" y="-6" width="51" height="13"/><text x="763.5" y="-9">MIA2</text>
</g>
<g transform="translate(0,930)">
<rect class="d" x="82" y="-6" width="51" height="13"/><text x="107.5" y="-9">FANCM</text>
<rect class="d" x="164" y="-6" width="50" height="13"/><text x="189" y="-9">MIS18BP1</text>
<rect class="d" x="240" y="-6" width="30" height="13"/><text x="255" y="-9">RPL10L</text>
<rect class="d" x="297" y="-6" width="61" height="13"/><text x="327.5" y="-9">MDGA2</text>
<rect class="d" x="388" y="-6" width="41" height="13"/><text x="408.5" y="-9">RPS29</text>
<rect class="d" x="459" y="-6" width="41" height="13"/><text x="479.5" y="-9">LRR1</text>
<rect class="d" x="530" y="-6" width="30" height="13"/><text x="545" y="-9">RPL36AL</text>
<rect class="d" x="589" y="-6" width="31" height="13"/><text x="604.5" y="-9">MGAT2</text>
<rect class="d" x="650" y="-6" width="41" height="13"/><text x="670.5" y="-9">DNAAF2</text>
<rect class="d" x="721" y="-6" width="51" height="13"/><text x="746.5" y="-9">POLE2</text>
</g>
<g transform="translate(0,960)">
<rect class="d" x="130" y="-6" width="51" height="13"/><text x="155.5" y="-9">CDKL1</text>
<rect class="d" x="211" y="-6" width="41" height="13"/><text x="231.5" y="-9">DMAC2L</text>
<rect class="d" x="282" y="-6" width="51" height="13"/><text x="307.5" y="-9">L2HGDH</text>
<rect class="d" x="363" y="-6" width="50" height="13"/><text x="388" y="-9">SOS2</text>
<rect class="d" x="444" y="-6" width="41" height="13"/><text x="464.5" y="-9">VCPKMT</text>
<rect class="d" x="515" y="-6" width="41" height="13"/><text x="535.5" y="-9">ARF6</text>
<rect class="d" x="585" y="-6" width="52" height="13"/><text x="611" y="-9">NEMF</text>
<rect class="d" x="666" y="-6" width="41" height="13"/><text x="686.5" y="-9">KLHDC2</text>
<rect class="d" x="738" y="-6" width="51" height="13"/><text x="763.5" y="-9">KLHDC1</text>
</g>
<g transform="translate(0,990)">
<rect class="d" x="82" y="-6" width="51" height="13"/><text x="107.5" y="-9">MAP4K5</text>
<rect class="d" x="163" y="-6" width="51" height="13"/><text x="188.5" y="-9">ATL1</text>
<rect class="d" x="244" y="-6" width="51" height="13"/><text x="269.5" y="-9">SAV1</text>
<rect class="d" x="325" y="-6" width="51" height="13"/><text x="350.5" y="-9">NIN</text>
<rect class="d" x="406" y="-6" width="51" height="13"/><text x="431.5" y="-9">PYGL</text>
<rect class="d" x="487" y="-6" width="51" height="13"/><text x="512.5" y="-9">ABHD12B</text>
<rect class="d" x="568" y="-6" width="51" height="13"/><text x="593.5" y="-9">TRIM9</text>
<rect class="d" x="649" y="-6" width="41" height="13"/><text x="669.5" y="-9">TMX1</text>
<rect class="d" x="720" y="-6" width="51" height="13"/><text x="745.5" y="-9">FRMD6</text>
</g>
<g transform="translate(0,1020)">
<rect class="d" x="130" y="-6" width="41" height="13"/><text x="150.5" y="-9">PSMC6</text>
<rect class="d" x="201" y="-6" width="51" height="13"/><text x="226.5" y="-9">ERO1A</text>
<rect class="d" x="282" y="-6" width="51" height="13"/><text x="307.5" y="-9">GPR137C</text>
<rect class="d" x="363" y="-6" width="51" height="13"/><text x="388.5" y="-9">TXNDC16</text>
<rect class="d" x="444" y="-6" width="41" height="13"/><text x="464.5" y="-9">PTGER2</text>
<rect class="d" x="515" y="-6" width="41" height="13"/><text x="535.5" y="-9">PTGDR</text>
<rect class="d" x="587" y="-6" width="50" height="13"/><text x="612" y="-9">NID2</text>
<rect class="d" x="667" y="-6" width="41" height="13"/><text x="687.5" y="-9">RTRAF</text>
<rect class="d" x="738" y="-6" width="51" height="13"/><text x="763.5" y="-9">GNG2</text>
</g>
<g transform="translate(0,1050)">
<rect class="d" x="82" y="-6" width="51" height="13"/><text x="107.5" y="-9">STYX</text>
<rect class="d" x="157" y="-6" width="41" height="13"/><text x="177.5" y="-9">GNPNAT1</text>
<rect class="d" x="223" y="-6" width="51" height="13"/><text x="248.5" y="-9">FERMT2</text>
<rect class="d" x="303" y="-6" width="51" height="13"/><text x="328.5" y="-9">DDHD1</text>
<rect class="d" x="384" y="-6" width="40" height="13"/><text x="404" y="-9">BMP4</text>
<rect class="d" x="455" y="-6" width="41" height="13"/><text x="475.5" y="-9">CDKN3</text>
<rect class="d" x="526" y="-6" width="41" height="13"/><text x="546.5" y="-9">CNIH1</text>
<rect class="d" x="596" y="-6" width="41" height="13"/><text x="616.5" y="-9">GMFB</text>
<rect class="d" x="668" y="-6" width="40" height="13"/><text x="688" y="-9">CGRRF1</text>
<rect class="d" x="739" y="-6" width="50" height="13"/><text x="764" y="-9">SAMD4A</text>
</g>
<g transform="translate(0,1080)">
<rect class="d" x="120" y="-6" width="51" height="13"/><text x="145.5" y="-9">TBPL2</text>
<rect class="d" x="201" y="-6" width="41" height="13"/><text x="221.5" y="-9">ATG14</text>
<rect class="d" x="282" y="-6" width="51" height="13"/><text x="307.5" y="-9">FBXO34</text>
<rect class="d" x="363" y="-6" width="51" height="13"/><text x="388.5" y="-9">DLGAP5</text>
<rect class="d" x="434" y="-6" width="41" height="13"/><text x="454.5" y="-9">LGALS3</text>
<rect class="d" x="505" y="-6" width="51" height="13"/><text x="530.5" y="-9">MAPK1IP1L</text>
<rect class="d" x="587" y="-6" width="40" height="13"/><text x="607" y="-9">SOCS4</text>
<rect class="d" x="657" y="-6" width="51" height="13"/><text x="682.5" y="-9">WDHD1</text>
<rect class="d" x="738" y="-6" width="51" height="13"/><text x="763.5" y="-9">GCH1</text>
</g>
<g transform="translate(0,1110)">
<rect class="d" x="82" y="-6" width="51" height="13"/><text x="107.5" y="-9">KTN1</text>
<rect class="d" x="164" y="-6" width="50" height="13"/><text x="189" y="-9">PELI2</text>
<rect class="d" x="244" y="-6" width="51" height="13"/><text x="269.5" y="-9">TMEM260</text>
<rect class="d" x="325" y="-6" width="41" height="13"/><text x="345.5" y="-9">OTX2</text>
<rect class="d" x="396" y="-6" width="51" height="13"/><text x="421.5" y="-9">EXOC5</text>
<rect class="d" x="477" y="-6" width="41" height="13"/><text x="497.5" y="-9">AP5M1</text>
<rect class="d" x="548" y="-6" width="41" height="13"/><text x="568.5" y="-9">NAA30</text>
<rect class="d" x="613" y="-6" width="40" height="13"/><text x="633" y="-9">CCDC198</text>
<rect class="l" x="677" y="-6" width="61" height="13"/><text x="707.5" y="-9">SLC35F4</text>
</g>
<g transform="translate(0,1140)">
<rect class="d" x="142" y="-6" width="51" height="13"/><text x="167.5" y="-9">DAAM1</text>
<rect class="d" x="223" y="-6" width="41" height="13"/><text x="243.5" y="-9">DACT1</text>
<rect class="d" x="294" y="-6" width="51" height="13"/><text x="319.5" y="-9">KIAA0586</text>
<rect class="d" x="375" y="-6" width="41" height="13"/><text x="395.5" y="-9">TIMM9</text>
<rect class="d" x="440" y="-6" width="41" height="13"/><text x="460.5" y="-9">TOMM20L</text>
<rect class="d" x="505" y="-6" width="51" height="13"/><text x="530.5" y="-9">ARID4A</text>
<rect class="d" x="587" y="-6" width="40" height="13"/><text x="607" y="-9">PSMA3</text>
<rect class="d" x="657" y="-6" width="51" height="13"/><text x="682.5" y="-9">ACTR10</text>
<rect class="d" x="738" y="-6" width="51" height="13"/><text x="763.5" y="-9">ARMH4</text>
</g>
<g transform="translate(0,1170)">
<rect class="d" x="82" y="-6" width="51" height="13"/><text x="107.5" y="-9">GPR135</text>
<rect class="d" x="157" y="-6" width="41" height="13"/><text x="177.5" y="-9">L3HYPDH</text>
<rect class="d" x="222" y="-6" width="41" height="13"/><text x="242.5" y="-9">JKAMP</text>
<rect class="d" x="293" y="-6" width="51" height="13"/><text x="318.5" y="-9">CCDC175</text>
<rect class="d" x="374" y="-6" width="51" height="13"/><text x="399.5" y="-9">RTN1</text>
<rect class="l" x="455" y="-6" width="51" height="13"/><text x="480.5" y="-9">LRRC9</text>
<rect class="d" x="536" y="-6" width="41" height="13"/><text x="556.5" y="-9">PCNX4</text>
<rect class="d" x="617" y="-6" width="41" height="13"/><text x="637.5" y="-9">DHRS7</text>
<rect class="d" x="687" y="-6" width="51" height="13"/><text x="712.5" y="-9">PPM1A</text>
</g>
<g transform="translate(0,1200)">
<rect class="d" x="136" y="-6" width="41" height="13"/><text x="156.5" y="-9">TMEM30B</text>
<rect class="d" x="201" y="-6" width="61" height="13"/><text x="231.5" y="-9">PRKCH</text>
<rect class="d" x="293" y="-6" width="51" height="13"/><text x="318.5" y="-9">SLC38A6</text>
<rect class="d" x="374" y="-6" width="41" height="13"/><text x="394.5" y="-9">TRMT5</text>
<rect class="d" x="444" y="-6" width="51" height="13"/><text x="469.5" y="-9">MNAT1</text>
<rect class="d" x="525" y="-6" width="41" height="13"/><text x="545.5" y="-9">SIX4</text>
<rect class="d" x="596" y="-6" width="41" height="13"/><text x="616.5" y="-9">SIX1</text>
<rect class="d" x="667" y="-6" width="41" height="13"/><text x="687.5" y="-9">SIX6</text>
<rect class="d" x="738" y="-6" width="51" height="13"/><text x="763.5" y="-9">C14orf39</text>
</g>
<g transform="translate(0,1230)">
<rect class="g" x="95" y="-6" width="51" height="13"/><text x="120.5" y="-9">ENSG00000258989</text>
<rect class="d" x="189" y="-6" width="51" height="13"/><text x="214.5" y="-9">HIF1A</text>
<rect class="d" x="270" y="-6" width="51" height="13"/><text x="295.5" y="-9">SNAPC1</text>
<rect class="d" x="351" y="-6" width="51" height="13"/><text x="376.5" y="-9">SYT16</text>
<rect class="d" x="432" y="-6" width="61" height="13"/><text x="462.5" y="-9">KCNH5</text>
<rect class="d" x="523" y="-6" width="51" height="13"/><text x="548.5" y="-9">RHOJ</text>
<rect class="d" x="604" y="-6" width="41" height="13"/><text x="624.5" y="-9">GPHB5</text>
<rect class="d" x="675" y="-6" width="51" height="13"/><text x="700.5" y="-9">PPP2R5E</text>
</g>
<g transform="translate(0,1260)">
<rect class="d" x="110" y="-6" width="41" height="13"/><text x="130.5" y="-9">HSPA2</text>
<rect class="d" x="181" y="-6" width="41" height="13"/><text x="201.5" y="-9">ZBTB1</text>
<rect class="d" x="252" y="-6" width="41" height="13"/><text x="272.5" y="-9">AKAP5</text>
<rect class="d" x="323" y="-6" width="51" height="13"/><text x="348.5" y="-9">ZBTB25</text>
<rect class="d" x="404" y="-6" width="51" height="13"/><text x="429.5" y="-9">MTHFD1</text>
<rect class="d" x="485" y="-6" width="51" height="13"/><text x="510.5" y="-9">ESR2</text>
<rect class="d" x="566" y="-6" width="61" height="13"/><text x="596.5" y="-9">SYNE2</text>
<rect class="d" x="657" y="-6" width="51" height="13"/><text x="682.5" y="-9">SGPP1</text>
<rect class="d" x="738" y="-6" width="51" height="13"/><text x="763.5" y="-9">WDR89</text>
</g>
<g transform="translate(0,1290)">
<rect class="d" x="82" y="-6" width="51" height="13"/><text x="107.5" y="-9">PPP1R36</text>
<rect class="d" x="164" y="-6" width="50" height="13"/><text x="189" y="-9">PLEKHG3</text>
<rect class="d" x="244" y="-6" width="51" height="13"/><text x="269.5" y="-9">SPTB</text>
<rect class="d" x="325" y="-6" width="41" height="13"/><text x="345.5" y="-9">CHURC1</text>
<rect class="g" x="397" y="-6" width="51" height="13"/><text x="422.5" y="-9">CHURC1-FNTB</text>
<rect class="d" x="479" y="-6" width="41" height="13"/><text x="499.5" y="-9">GPX2</text>
<rect class="d" x="550" y="-6" width="41" height="13"/><text x="570.5" y="-9">RAB15</text>
<rect class="d" x="620" y="-6" width="51" height="13"/><text x="645.5" y="-9">FNTB</text>
<rect class="d" x="702" y="-6" width="50" height="13"/><text x="727" y="-9">MAX</text>
</g>
<g transform="translate(0,1320)">
<rect class="d" x="90" y="-6" width="51" height="13"/><text x="115.5" y="-9">TMEM229B</text>
<rect class="d" x="171" y="-6" width="41" height="13"/><text x="191.5" y="-9">PLEK2</text>
<rect class="d" x="242" y="-6" width="41" height="13"/><text x="262.5" y="-9">EIF2S1</text>
<rect class="d" x="313" y="-6" width="51" height="13"/><text x="338.5" y="-9">ATP6V1D</text>
<rect class="d" x="394" y="-6" width="51" height="13"/><text x="419.5" y="-9">PALS1</text>
<rect class="d" x="475" y="-6" width="51" height="13"/><text x="500.5" y="-9">GARIN2</text>
<rect class="d" x="556" y="-6" width="61" height="13"/><text x="586.5" y="-9">GPHN</text>
<rect class="g" x="647" y="-6" width="51" height="13"/><text x="672.5" y="-9">CCDC196</text>
<rect class="d" x="728" y="-6" width="61" height="13"/><text x="758.5" y="-9">FUT8</text>
</g>
<g transform="translate(0,1350)">
<rect class="d" x="82" y="-6" width="51" height="13"/><text x="107.5" y="-9">PLEKHH1</text>
<rect class="d" x="164" y="-6" width="40" height="13"/><text x="184" y="-9">PIGH</text>
<rect class="d" x="234" y="-6" width="51" height="13"/><text x="259.5" y="-9">ARG2</text>
<rect class="d" x="315" y="-6" width="40" height="13"/><text x="335" y="-9">VTI1B</text>
<rect class="d" x="386" y="-6" width="41" height="13"/><text x="406.5" y="-9">RDH11</text>
<rect class="d" x="457" y="-6" width="51" height="13"/><text x="482.5" y="-9">RDH12</text>
<rect class="d" x="538" y="-6" width="51" height="13"/><text x="563.5" y="-9">ZFYVE26</text>
<rect class="d" x="619" y="-6" width="61" height="13"/><text x="649.5" y="-9">RAD51B</text>
<rect class="d" x="704" y="-6" width="40" height="13"/><text x="724" y="-9">ZFP36L1</text>
</g>
<g transform="translate(0,1380)">
<rect class="d" x="122" y="-6" width="51" height="13"/><text x="147.5" y="-9">SUSD6</text>
<rect class="d" x="198" y="-6" width="40" height="13"/><text x="218" y="-9">CCDC177</text>
<rect class="d" x="262" y="-6" width="51" height="13"/><text x="287.5" y="-9">PLEKHD1</text>
<rect class="d" x="343" y="-6" width="51" height="13"/><text x="368.5" y="-9">SLC39A9</text>
<rect class="d" x="424" y="-6" width="41" height="13"/><text x="444.5" y="-9">ERH</text>
<rect class="d" x="495" y="-6" width="51" height="13"/><text x="520.5" y="-9">GALNT16</text>
<rect class="d" x="576" y="-6" width="51" height="13"/><text x="601.5" y="-9">EXD2</text>
<rect class="d" x="657" y="-6" width="51" height="13"/><text x="682.5" y="-9">DCAF5</text>
<rect class="d" x="738" y="-6" width="51" height="13"/><text x="763.5" y="-9">ACTN1</text>
</g>
<g transform="translate(0,1410)">
<rect class="d" x="82" y="-6" width="51" height="13"/><text x="107.5" y="-9">SRSF5</text>
<rect class="d" x="157" y="-6" width="41" height="13"/><text x="177.5" y="-9">SLC10A1</text>
<rect class="d" x="222" y="-6" width="51" height="13"/><text x="247.5" y="-9">SMOC1</text>
<rect class="d" x="303" y="-6" width="51" height="13"/><text x="328.5" y="-9">SLC8A3</text>
<rect class="d" x="384" y="-6" width="51" height="13"/><text x="409.5" y="-9">COX16</text>
<rect class="g" x="472" y="-6" width="51" height="13"/><text x="497.5" y="-9">SYNJ2BP-COX16</text>
<rect class="d" x="560" y="-6" width="51" height="13"/><text x="585.5" y="-9">SYNJ2BP</text>
<rect class="d" x="641" y="-6" width="41" height="13"/><text x="661.5" y="-9">ADAM21</text>
<rect class="d" x="722" y="-6" width="41" height="13"/><text x="742.5" y="-9">ADAM20</text>
</g>
<g transform="translate(0,1440)">
<rect class="d" x="80" y="-6" width="51" height="13"/><text x="105.5" y="-9">ZFYVE1</text>
<rect class="d" x="161" y="-6" width="51" height="13"/><text x="186.5" y="-9">DCAF4</text>
<rect class="d" x="242" y="-6" width="51" height="13"/><text x="267.5" y="-9">DPF3</text>
<rect class="d" x="323" y="-6" width="61" height="13"/><text x="353.5" y="-9">RGS6</text>
<rect class="d" x="414" y="-6" width="61" height="13"/><text x="444.5" y="-9">SIPA1L1</text>
<rect class="d" x="505" y="-6" width="41" height="13"/><text x="525.5" y="-9">PCNX1</text>
<rect class="d" x="586" y="-6" width="51" height="13"/><text x="611.5" y="-9">MAP3K9</text>
<rect class="d" x="666" y="-6" width="41" height="13"/><text x="686.5" y="-9">TTC9</text>
<rect class="d" x="738" y="-6" width="51" height="13"/><text x="763.5" y="-9">MED6</text>
</g>
<g transform="translate(0,1470)">
<rect class="d" x="82" y="-6" width="51" height="13"/><text x="107.5" y="-9">RBM25</text>
<rect class="d" x="164" y="-6" width="50" height="13"/><text x="189" y="-9">PSEN1</text>
<rect class="d" x="244" y="-6" width="51" height="13"/><text x="269.5" y="-9">PAPLN</text>
<rect class="d" x="325" y="-6" width="51" height="13"/><text x="350.5" y="-9">NUMB</text>
<rect class="d" x="406" y="-6" width="51" height="13"/><text x="431.5" y="-9">HEATR4</text>
<rect class="d" x="487" y="-6" width="31" height="13"/><text x="502.5" y="-9">RIOX1</text>
<rect class="d" x="548" y="-6" width="41" height="13"/><text x="568.5" y="-9">ACOT1</text>
<rect class="d" x="619" y="-6" width="41" height="13"/><text x="639.5" y="-9">ACOT2</text>
<rect class="d" x="690" y="-6" width="41" height="13"/><text x="710.5" y="-9">ACOT4</text>
</g>
<g transform="translate(0,1500)">
<rect class="d" x="152" y="-6" width="51" height="13"/><text x="177.5" y="-9">ENTPD5</text>
<rect class="d" x="233" y="-6" width="41" height="13"/><text x="253.5" y="-9">COQ6</text>
<rect class="d" x="298" y="-6" width="41" height="13"/><text x="318.5" y="-9">FAM161B</text>
<rect class="d" x="363" y="-6" width="51" height="13"/><text x="388.5" y="-9">ZNF410</text>
<rect class="d" x="444" y="-6" width="51" height="13"/><text x="469.5" y="-9">PTGR2</text>
<rect class="d" x="525" y="-6" width="51" height="13"/><text x="550.5" y="-9">MIDEAS</text>
<rect class="d" x="606" y="-6" width="41" height="13"/><text x="626.5" y="-9">PNMA1</text>
<rect class="d" x="666" y="-6" width="51" height="13"/><text x="691.5" y="-9">DNAL1</text>
<rect class="d" x="748" y="-6" width="41" height="13"/><text x="768.5" y="-9">ACOT6</text>
</g>
<g transform="translate(0,1530)">
<rect class="d" x="82" y="-6" width="51" height="13"/><text x="107.5" y="-9">BBOF1</text>
<rect class="d" x="157" y="-6" width="41" height="13"/><text x="177.5" y="-9">ALDH6A1</text>
<rect class="g" x="222" y="-6" width="51" height="13"/><text x="247.5" y="-9">LIN52</text>
<rect class="d" x="303" y="-6" width="41" height="13"/><text x="323.5" y="-9">VSX2</text>
<rect class="d" x="374" y="-6" width="41" height="13"/><text x="394.5" y="-9">ABCD4</text>
<rect class="d" x="445" y="-6" width="51" height="13"/><text x="470.5" y="-9">VRTN</text>
<rect class="l" x="523" y="-6" width="40" height="13"/><text x="543" y="-9">SYNDIG1L</text>
<rect class="d" x="591" y="-6" width="40" height="13"/><text x="611" y="-9">NPC2</text>
<rect class="d" x="662" y="-6" width="41" height="13"/><text x="682.5" y="-9">ISCA2</text>
<rect class="d" x="733" y="-6" width="51" height="13"/><text x="758.5" y="-9">LTBP2</text>
</g>
<g transform="translate(0,1560)">
<rect class="d" x="82" y="-6" width="51" height="13"/><text x="107.5" y="-9">ACYP1</text>
<rect class="d" x="162" y="-6" width="51" height="13"/><text x="187.5" y="-9">MLH3</text>
<rect class="d" x="243" y="-6" width="41" height="13"/><text x="263.5" y="-9">EIF2B2</text>
<rect class="d" x="314" y="-6" width="41" height="13"/><text x="334.5" y="-9">PGF</text>
<rect class="d" x="380" y="-6" width="41" height="13"/><text x="400.5" y="-9">RPS6KL1</text>
<rect class="d" x="444" y="-6" width="41" height="13"/><text x="464.5" y="-9">DLST</text>
<rect class="l" x="515" y="-6" width="41" height="13"/><text x="535.5" y="-9">PROX2</text>
<rect class="d" x="586" y="-6" width="51" height="13"/><text x="611.5" y="-9">YLPM1</text>
<rect class="d" x="666" y="-6" width="41" height="13"/><text x="686.5" y="-9">FCF1</text>
<rect class="d" x="738" y="-6" width="51" height="13"/><text x="763.5" y="-9">AREL1</text>
</g>
<g transform="translate(0,1590)">
<rect class="d" x="82" y="-6" width="51" height="13"/><text x="107.5" y="-9">ZC2HC1C</text>
<rect class="d" x="163" y="-6" width="51" height="13"/><text x="188.5" y="-9">NEK9</text>
<rect class="d" x="244" y="-6" width="51" height="13"/><text x="269.5" y="-9">TMED10</text>
<rect class="d" x="325" y="-6" width="41" height="13"/><text x="345.5" y="-9">FOS</text>
<rect class="d" x="396" y="-6" width="51" height="13"/><text x="421.5" y="-9">JDP2</text>
<rect class="d" x="477" y="-6" width="41" height="13"/><text x="497.5" y="-9">BATF</text>
<rect class="d" x="548" y="-6" width="51" height="13"/><text x="573.5" y="-9">FLVCR2</text>
<rect class="d" x="629" y="-6" width="61" height="13"/><text x="659.5" y="-9">TTLL5</text>
<rect class="d" x="720" y="-6" width="41" height="13"/><text x="740.5" y="-9">ERG28</text>
</g>
<g transform="translate(0,1620)">
<rect class="d" x="142" y="-6" width="41" height="13"/><text x="162.5" y="-9">CIPC</text>
<rect class="d" x="207" y="-6" width="41" height="13"/><text x="227.5" y="-9">IRF2BPL</text>
<rect class="d" x="272" y="-6" width="41" height="13"/><text x="292.5" y="-9">LRRC74A</text>
<rect class="d" x="353" y="-6" width="51" height="13"/><text x="378.5" y="-9">ANGEL1</text>
<rect class="d" x="434" y="-6" width="41" height="13"/><text x="454.5" y="-9">VASH1</text>
<rect class="d" x="505" y="-6" width="51" height="13"/><text x="530.5" y="-9">ESRRB</text>
<rect class="d" x="587" y="-6" width="50" height="13"/><text x="612" y="-9">GPATCH2L</text>
<rect class="d" x="667" y="-6" width="41" height="13"/><text x="687.5" y="-9">TGFB3</text>
<rect class="d" x="738" y="-6" width="51" height="13"/><text x="763.5" y="-9">IFT43</text>
</g>
<g transform="translate(0,1650)">
<rect class="d" x="82" y="-6" width="51" height="13"/><text x="107.5" y="-9">TMEM63C</text>
<rect class="d" x="157" y="-6" width="41" height="13"/><text x="177.5" y="-9">ZDHHC22</text>
<rect class="d" x="222" y="-6" width="41" height="13"/><text x="242.5" y="-9">NGB</text>
<rect class="d" x="293" y="-6" width="51" height="13"/><text x="318.5" y="-9">POMT2</text>
<rect class="d" x="374" y="-6" width="41" height="13"/><text x="394.5" y="-9">GSTZ1</text>
<rect class="d" x="445" y="-6" width="51" height="13"/><text x="470.5" y="-9">TMED8</text>
<rect class="d" x="526" y="-6" width="41" height="13"/><text x="546.5" y="-9">SAMD15</text>
<rect class="d" x="591" y="-6" width="40" height="13"/><text x="611" y="-9">NOXRED1</text>
<rect class="d" x="650" y="-6" width="41" height="13"/><text x="670.5" y="-9">VIPAS39</text>
<rect class="d" x="715" y="-6" width="40" height="13"/><text x="735" y="-9">AHSA1</text>
</g>
<g transform="translate(0,1680)">
<rect class="d" x="80" y="-6" width="61" height="13"/><text x="110.5" y="-9">CEP128</text>
<rect class="d" x="171" y="-6" width="51" height="13"/><text x="196.5" y="-9">DIO2</text>
<rect class="d" x="252" y="-6" width="61" height="13"/><text x="282.5" y="-9">NRXN3</text>
<rect class="d" x="343" y="-6" width="51" height="13"/><text x="368.5" y="-9">ADCK1</text>
<rect class="d" x="424" y="-6" width="51" height="13"/><text x="449.5" y="-9">SNW1</text>
<rect class="d" x="505" y="-6" width="51" height="13"/><text x="530.5" y="-9">SLIRP</text>
<rect class="d" x="586" y="-6" width="51" height="13"/><text x="611.5" y="-9">ALKBH1</text>
<rect class="d" x="666" y="-6" width="51" height="13"/><text x="691.5" y="-9">SPTLC2</text>
<rect class="d" x="748" y="-6" width="41" height="13"/><text x="768.5" y="-9">ISM2</text>
</g>
<g transform="translate(0,1710)">
<rect class="d" x="82" y="-6" width="51" height="13"/><text x="107.5" y="-9">TSHR</text>
<rect class="d" x="163" y="-6" width="51" height="13"/><text x="188.5" y="-9">GTF2A1</text>
<rect class="d" x="244" y="-6" width="51" height="13"/><text x="269.5" y="-9">STON2</text>
<rect class="d" x="325" y="-6" width="51" height="13"/><text x="350.5" y="-9">SEL1L</text>
<rect class="d" x="406" y="-6" width="51" height="13"/><text x="431.5" y="-9">FLRT2</text>
<rect class="d" x="487" y="-6" width="51" height="13"/><text x="512.5" y="-9">GALC</text>
<rect class="d" x="568" y="-6" width="41" height="13"/><text x="588.5" y="-9">GPR65</text>
<rect class="d" x="639" y="-6" width="51" height="13"/><text x="664.5" y="-9">KCNK10</text>
<rect class="d" x="720" y="-6" width="51" height="13"/><text x="745.5" y="-9">SPATA7</text>
</g>
<g transform="translate(0,1740)">
<rect class="d" x="90" y="-6" width="41" height="13"/><text x="110.5" y="-9">PSMC1</text>
<rect class="d" x="161" y="-6" width="51" height="13"/><text x="186.5" y="-9">KCNK13</text>
<rect class="d" x="242" y="-6" width="51" height="13"/><text x="267.5" y="-9">TDP1</text>
<rect class="d" x="323" y="-6" width="51" height="13"/><text x="348.5" y="-9">EFCAB11</text>
<rect class="d" x="404" y="-6" width="61" height="13"/><text x="434.5" y="-9">FOXN3</text>
<rect class="d" x="495" y="-6" width="51" height="13"/><text x="520.5" y="-9">TTC8</text>
<rect class="d" x="576" y="-6" width="51" height="13"/><text x="601.5" y="-9">EML5</text>
<rect class="d" x="657" y="-6" width="51" height="13"/><text x="682.5" y="-9">ZC3H14</text>
<rect class="d" x="738" y="-6" width="51" height="13"/><text x="763.5" y="-9">PTPN21</text>
</g>
<g transform="translate(0,1770)">
<rect class="d" x="82" y="-6" width="51" height="13"/><text x="107.5" y="-9">NRDE2</text>
<rect class="d" x="164" y="-6" width="40" height="13"/><text x="184" y="-9">CALM1</text>
<rect class="d" x="234" y="-6" width="51" height="13"/><text x="259.5" y="-9">TTC7B</text>
<rect class="d" x="315" y="-6" width="51" height="13"/><text x="340.5" y="-9">RPS6KA5</text>
<rect class="d" x="396" y="-6" width="51" height="13"/><text x="421.5" y="-9">DGLUCY</text>
<rect class="d" x="477" y="-6" width="41" height="13"/><text x="497.5" y="-9">GPR68</text>
<rect class="d" x="548" y="-6" width="51" height="13"/><text x="573.5" y="-9">CCDC88C</text>
<rect class="d" x="629" y="-6" width="51" height="13"/><text x="654.5" y="-9">PPP4R3A</text>
<rect class="d" x="710" y="-6" width="51" height="13"/><text x="735.5" y="-9">CATSPERB</text>
</g>
<g transform="translate(0,1800)">
<rect class="d" x="100" y="-6" width="51" height="13"/><text x="125.5" y="-9">LGMN</text>
<rect class="d" x="181" y="-6" width="51" height="13"/><text x="206.5" y="-9">RIN3</text>
<rect class="d" x="252" y="-6" width="61" height="13"/><text x="282.5" y="-9">SLC24A4</text>
<rect class="d" x="343" y="-6" width="51" height="13"/><text x="368.5" y="-9">CPSF2</text>
<rect class="d" x="424" y="-6" width="41" height="13"/><text x="444.5" y="-9">NDUFB1</text>
<rect class="d" x="495" y="-6" width="51" height="13"/><text x="520.5" y="-9">ATXN3</text>
<rect class="d" x="576" y="-6" width="51" height="13"/><text x="601.5" y="-9">TRIP11</text>
<rect class="d" x="657" y="-6" width="51" height="13"/><text x="682.5" y="-9">FBLN5</text>
<rect class="d" x="738" y="-6" width="51" height="13"/><text x="763.5" y="-9">TC2N</text>
</g>
<g transform="translate(0,1830)">
<rect class="d" x="82" y="-6" width="51" height="13"/><text x="107.5" y="-9">GOLGA5</text>
<rect class="d" x="164" y="-6" width="40" height="13"/><text x="184" y="-9">CHGA</text>
<rect class="d" x="234" y="-6" width="51" height="13"/><text x="259.5" y="-9">ITPK1</text>
<rect class="d" x="315" y="-6" width="31" height="13"/><text x="330.5" y="-9">MOAP1</text>
<rect class="d" x="371" y="-6" width="40" height="13"/><text x="391" y="-9">TMEM251</text>
<rect class="g" x="448" y="-6" width="51" height="13"/><text x="473.5" y="-9">ENSG00000259066</text>
<rect class="d" x="542" y="-6" width="40" height="13"/><text x="562" y="-9">GON7</text>
<rect class="d" x="613" y="-6" width="40" height="13"/><text x="633" y="-9">UBR7</text>
<rect class="d" x="684" y="-6" width="51" height="13"/><text x="709.5" y="-9">BTBD7</text>
</g>
<g transform="translate(0,1860)">
<rect class="d" x="105" y="-6" width="41" height="13"/><text x="125.5" y="-9">IFI27</text>
<rect class="d" x="170" y="-6" width="41" height="13"/><text x="190.5" y="-9">IFI27L1</text>
<rect class="d" x="235" y="-6" width="51" height="13"/><text x="260.5" y="-9">DDX24</text>
<rect class="d" x="316" y="-6" width="41" height="13"/><text x="336.5" y="-9">OTUB2</text>
<rect class="g" x="381" y="-6" width="41" height="13"/><text x="401.5" y="-9">CCDC197</text>
<rect class="d" x="446" y="-6" width="51" height="13"/><text x="471.5" y="-9">ASB2</text>
<rect class="d" x="521" y="-6" width="41" height="13"/><text x="541.5" y="-9">FAM181A</text>
<rect class="d" x="586" y="-6" width="51" height="13"/><text x="611.5" y="-9">PRIMA1</text>
<rect class="d" x="666" y="-6" width="31" height="13"/><text x="681.5" y="-9">COX8C</text>
<rect class="d" x="728" y="-6" width="61" height="13"/><text x="758.5" y="-9">UNC79</text>
</g>
<g transform="translate(0,1890)">
<rect class="d" x="82" y="-6" width="30" height="13"/><text x="97" y="-9">IFI27L2</text>
<rect class="d" x="141" y="-6" width="51" height="13"/><text x="166.5" y="-9">PPP4R4</text>
<rect class="d" x="222" y="-6" width="41" height="13"/><text x="242.5" y="-9">SERPINA10</text>
<rect class="d" x="290" y="-6" width="40" height="13"/><text x="310" y="-9">SERPINA6</text>
<rect class="g" x="360" y="-6" width="31" height="13"/><text x="375.5" y="-9">SERPINA2</text>
<rect class="d" x="420" y="-6" width="41" height="13"/><text x="440.5" y="-9">SERPINA1</text>
<rect class="d" x="488" y="-6" width="40" height="13"/><text x="508" y="-9">SERPINA11</text>
<rect class="d" x="556" y="-6" width="40" height="13"/><text x="576" y="-9">SERPINA9</text>
<rect class="d" x="624" y="-6" width="40" height="13"/><text x="644" y="-9">SERPINA12</text>
<rect class="d" x="692" y="-6" width="41" height="13"/><text x="712.5" y="-9">SERPINA4</text>
</g>
<g transform="translate(0,1920)">
<rect class="g" x="75" y="-6" width="51" height="13"/><text x="100.5" y="-9">TUNAR</text>
<rect class="d" x="156" y="-6" width="41" height="13"/><text x="176.5" y="-9">TCL1A</text>
<rect class="d" x="226" y="-6" width="41" height="13"/><text x="246.5" y="-9">TCL1B</text>
<rect class="d" x="297" y="-6" width="41" height="13"/><text x="317.5" y="-9">GLRX5</text>
<rect class="d" x="368" y="-6" width="51" height="13"/><text x="393.5" y="-9">SYNE3</text>
<rect class="d" x="450" y="-6" width="51" height="13"/><text x="475.5" y="-9">CLMN</text>
<rect class="d" x="531" y="-6" width="51" height="13"/><text x="556.5" y="-9">DICER1</text>
<rect class="d" x="612" y="-6" width="30" height="13"/><text x="627" y="-9">GSC</text>
<rect class="d" x="670" y="-6" width="40" height="13"/><text x="690" y="-9">SERPINA3</text>
<rect class="d" x="738" y="-6" width="51" height="13"/><text x="763.5" y="-9">SERPINA5</text>
</g>
<g transform="translate(0,1950)">
<rect class="l" x="76" y="-6" width="51" height="13"/><text x="101.5" y="-9">C14orf132</text>
<rect class="d" x="152" y="-6" width="51" height="13"/><text x="177.5" y="-9">BDKRB2</text>
<rect class="g" x="246" y="-6" width="51" height="13"/><text x="271.5" y="-9">ENSG00000258691</text>
<rect class="d" x="340" y="-6" width="41" height="13"/><text x="360.5" y="-9">BDKRB1</text>
<rect class="d" x="411" y="-6" width="51" height="13"/><text x="436.5" y="-9">ATG2B</text>
<rect class="d" x="492" y="-6" width="41" height="13"/><text x="512.5" y="-9">GSKIP</text>
<rect class="d" x="563" y="-6" width="51" height="13"/><text x="588.5" y="-9">AK7</text>
<rect class="d" x="643" y="-6" width="51" height="13"/><text x="668.5" y="-9">PAPOLA</text>
<rect class="d" x="725" y="-6" width="51" height="13"/><text x="750.5" y="-9">VRK1</text>
</g>
<g transform="translate(0,1980)">
<rect class="d" x="100" y="-6" width="41" height="13"/><text x="120.5" y="-9">DEGS2</text>
<rect class="d" x="171" y="-6" width="51" height="13"/><text x="196.5" y="-9">EVL</text>
<rect class="d" x="252" y="-6" width="51" height="13"/><text x="277.5" y="-9">EML1</text>
<rect class="d" x="333" y="-6" width="51" height="13"/><text x="358.5" y="-9">CYP46A1</text>
<rect class="d" x="414" y="-6" width="41" height="13"/><text x="434.5" y="-9">HHIPL1</text>
<rect class="d" x="495" y="-6" width="51" height="13"/><text x="520.5" y="-9">CCDC85C</text>
<rect class="d" x="576" y="-6" width="51" height="13"/><text x="601.5" y="-9">CCNK</text>
<rect class="d" x="657" y="-6" width="51" height="13"/><text x="682.5" y="-9">SETD3</text>
<rect class="d" x="738" y="-6" width="51" height="13"/><text x="763.5" y="-9">BCL11B</text>
</g>
<g transform="translate(0,2010)">
<rect class="d" x="82" y="-6" width="51" height="13"/><text x="107.5" y="-9">YY1</text>
<rect class="d" x="160" y="-6" width="41" height="13"/><text x="180.5" y="-9">SLC25A29</text>
<rect class="d" x="225" y="-6" width="41" height="13"/><text x="245.5" y="-9">SLC25A47</text>
<rect class="d" x="293" y="-6" width="51" height="13"/><text x="318.5" y="-9">WARS1</text>
<rect class="d" x="374" y="-6" width="51" height="13"/><text x="399.5" y="-9">WDR25</text>
<rect class="d" x="455" y="-6" width="51" height="13"/><text x="480.5" y="-9">BEGAIN</text>
<rect class="d" x="536" y="-6" width="41" height="13"/><text x="556.5" y="-9">DLK1</text>
<rect class="d" x="607" y="-6" width="41" height="13"/><text x="627.5" y="-9">RTL1</text>
<rect class="d" x="678" y="-6" width="41" height="13"/><text x="698.5" y="-9">DIO3</text>
</g>
<g transform="translate(0,2040)">
<rect class="d" x="120" y="-6" width="41" height="13"/><text x="140.5" y="-9">ANKRD9</text>
<rect class="d" x="191" y="-6" width="51" height="13"/><text x="216.5" y="-9">TECPR2</text>
<rect class="d" x="272" y="-6" width="41" height="13"/><text x="292.5" y="-9">CINP</text>
<rect class="d" x="343" y="-6" width="41" height="13"/><text x="363.5" y="-9">ZNF839</text>
<rect class="d" x="414" y="-6" width="51" height="13"/><text x="439.5" y="-9">MOK</text>
<rect class="d" x="495" y="-6" width="51" height="13"/><text x="520.5" y="-9">WDR20</text>
<rect class="d" x="576" y="-6" width="51" height="13"/><text x="601.5" y="-9">HSP90AA1</text>
<rect class="d" x="657" y="-6" width="51" height="13"/><text x="682.5" y="-9">DYNC1H1</text>
<rect class="d" x="738" y="-6" width="51" height="13"/><text x="763.5" y="-9">PPP2R5C</text>
</g>
<g transform="translate(0,2070)">
<rect class="d" x="82" y="-6" width="51" height="13"/><text x="107.5" y="-9">RCOR1</text>
<rect class="d" x="164" y="-6" width="51" height="13"/><text x="189.5" y="-9">TRAF3</text>
<rect class="d" x="244" y="-6" width="41" height="13"/><text x="264.5" y="-9">AMN</text>
<rect class="d" x="315" y="-6" width="51" height="13"/><text x="340.5" y="-9">CDC42BPB</text>
<rect class="d" x="396" y="-6" width="41" height="13"/><text x="416.5" y="-9">LBHD2</text>
<rect class="d" x="461" y="-6" width="41" height="13"/><text x="481.5" y="-9">EXOC3L4</text>
<rect class="d" x="520" y="-6" width="41" height="13"/><text x="540.5" y="-9">TNFAIP2</text>
<rect class="d" x="585" y="-6" width="41" height="13"/><text x="605.5" y="-9">EIF5</text>
<rect class="g" x="679" y="-6" width="31" height="13"/><text x="694.5" y="-9">ENSG00000291313</text>
</g>
<g transform="translate(0,2100)">
<rect class="d" x="132" y="-6" width="41" height="13"/><text x="152.5" y="-9">ZFYVE21</text>
<rect class="d" x="197" y="-6" width="41" height="13"/><text x="217.5" y="-9">XRCC3</text>
<rect class="g" x="281" y="-6" width="51" height="13"/><text x="306.5" y="-9">ENSG00000256500</text>
<rect class="d" x="375" y="-6" width="41" height="13"/><text x="395.5" y="-9">COA8</text>
<rect class="d" x="456" y="-6" width="51" height="13"/><text x="481.5" y="-9">KLC1</text>
<rect class="d" x="537" y="-6" width="41" height="13"/><text x="557.5" y="-9">BAG5</text>
<rect class="d" x="602" y="-6" width="41" height="13"/><text x="622.5" y="-9">TRMT61A</text>
<rect class="d" x="667" y="-6" width="41" height="13"/><text x="687.5" y="-9">CKB</text>
<rect class="d" x="738" y="-6" width="51" height="13"/><text x="763.5" y="-9">MARK3</text>
</g>
<g transform="translate(0,2130)">
<rect class="d" x="82" y="-6" width="51" height="13"/><text x="107.5" y="-9">PPP1R13B</text>
<rect class="d" x="157" y="-6" width="41" height="13"/><text x="177.5" y="-9">ATP5MJ</text>
<rect class="d" x="234" y="-6" width="51" height="13"/><text x="259.5" y="-9">TDRD9</text>
<rect class="l" x="315" y="-6" width="31" height="13"/><text x="330.5" y="-9">RD3L</text>
<rect class="d" x="376" y="-6" width="41" height="13"/><text x="396.5" y="-9">ASPG</text>
<rect class="d" x="447" y="-6" width="51" height="13"/><text x="472.5" y="-9">KIF26A</text>
<rect class="d" x="528" y="-6" width="51" height="13"/><text x="553.5" y="-9">TMEM179</text>
<rect class="d" x="609" y="-6" width="41" height="13"/><text x="629.5" y="-9">C14orf180</text>
<rect class="d" x="680" y="-6" width="51" height="13"/><text x="705.5" y="-9">INF2</text>
</g>
<g transform="translate(0,2160)">
<rect class="d" x="111" y="-6" width="41" height="13"/><text x="131.5" y="-9">GPR132</text>
<rect class="d" x="182" y="-6" width="41" height="13"/><text x="202.5" y="-9">CDCA4</text>
<rect class="d" x="253" y="-6" width="41" height="13"/><text x="273.5" y="-9">CLBA1</text>
<rect class="d" x="324" y="-6" width="61" height="13"/><text x="354.5" y="-9">AHNAK2</text>
<rect class="d" x="405" y="-6" width="41" height="13"/><text x="425.5" y="-9">PLD4</text>
<rect class="d" x="470" y="-6" width="41" height="13"/><text x="490.5" y="-9">CEP170B</text>
<rect class="d" x="535" y="-6" width="41" height="13"/><text x="555.5" y="-9">ZBTB42</text>
<rect class="d" x="606" y="-6" width="41" height="13"/><text x="626.5" y="-9">AKT1</text>
<rect class="d" x="677" y="-6" width="41" height="13"/><text x="697.5" y="-9">SIVA1</text>
<rect class="d" x="748" y="-6" width="41" height="13"/><text x="768.5" y="-9">ADSS1</text>
</g>
<g transform="translate(0,2190)">
<rect class="d" x="82" y="-6" width="41" height="13"/><text x="102.5" y="-9">JAG2</text>
<rect class="d" x="153" y="-6" width="41" height="13"/><text x="173.5" y="-9">NUDT14</text>
<rect class="d" x="224" y="-6" width="51" height="13"/><text x="249.5" y="-9">BRF1</text>
<rect class="d" x="305" y="-6" width="31" height="13"/><text x="320.5" y="-9">BTBD6</text>
<rect class="d" x="366" y="-6" width="51" height="13"/><text x="391.5" y="-9">PACS2</text>
<rect class="d" x="447" y="-6" width="51" height="13"/><text x="472.5" y="-9">TEX22</text>
<rect class="d" x="528" y="-6" width="51" height="13"/><text x="553.5" y="-9">MTA1</text>
<rect class="d" x="609" y="-6" width="41" height="13"/><text x="629.5" y="-9">CRIP2</text>
<rect class="d" x="680" y="-6" width="31" height="13"/><text x="695.5" y="-9">CRIP1</text>
<rect class="d" x="741" y="-6" width="41" height="13"/><text x="761.5" y="-9">TEDC1</text>
</g>
<g transform="translate(0,2220)">
<rect class="d" x="121" y="-6" width="41" height="13"/><text x="141.5" y="-9">IGHM</text>
<rect class="g" x="192" y="-6" width="41" height="13"/><text x="212.5" y="-9">IGHD</text>
<rect class="g" x="263" y="-6" width="41" height="13"/><text x="283.5" y="-9">IGHG3</text>
<rect class="d" x="334" y="-6" width="41" height="13"/><text x="354.5" y="-9">IGHG1</text>
<rect class="d" x="405" y="-6" width="41" height="13"/><text x="425.5" y="-9">IGHA1</text>
<rect class="d" x="476" y="-6" width="41" height="13"/><text x="496.5" y="-9">IGHG2</text>
<rect class="d" x="547" y="-6" width="41" height="13"/><text x="567.5" y="-9">IGHG4</text>
<rect class="d" x="618" y="-6" width="41" height="13"/><text x="638.5" y="-9">IGHE</text>
<rect class="d" x="689" y="-6" width="41" height="13"/><text x="709.5" y="-9">IGHA2</text>
<rect class="d" x="754" y="-6" width="41" height="13"/><text x="774.5" y="-9">TMEM121</text>
</g>
<g transform="translate(0,2250)">
<rect class="g" x="80" y="-6" width="21" height="13"/><text x="90.5" y="-9">IGHJ6</text>
<rect class="g" x="127" y="-6" width="21" height="13"/><text x="137.5" y="-9">IGHJ5</text>
<rect class="g" x="174" y="-6" width="21" height="13"/><text x="184.5" y="-9">IGHJ4</text>
<rect class="g" x="221" y="-6" width="21" height="13"/><text x="231.5" y="-9">IGHJ3</text>
<rect class="g" x="268" y="-6" width="21" height="13"/><text x="278.5" y="-9">IGHJ2</text>
<rect class="l" x="315" y="-6" width="21" height="13"/><text x="325.5" y="-9">IGHJ1</text>
<rect class="g" x="376" y="-6" width="10" height="13"/><text x="381" y="-9">IGHD7-27</text>
<rect class="g" x="441" y="-6" width="10" height="13"/><text x="446" y="-9">IGHD1-26</text>
<rect class="g" x="506" y="-6" width="10" height="13"/><text x="511" y="-9">IGHD6-25</text>
<rect class="g" x="571" y="-6" width="10" height="13"/><text x="576" y="-9">IGHD5-24</text>
<rect class="g" x="636" y="-6" width="10" height="13"/><text x="641" y="-9">IGHD4-23</text>
<rect class="g" x="700" y="-6" width="11" height="13"/><text x="705.5" y="-9">IGHD3-22</text>
<rect class="g" x="766" y="-6" width="10" height="13"/><text x="771" y="-9">IGHD2-21</text>
</g>
<g transform="translate(0,2280)">
<rect class="g" x="116" y="-6" width="11" height="13"/><text x="121.5" y="-9">IGHD3-10</text>
<rect class="g" x="181" y="-6" width="10" height="13"/><text x="186" y="-9">IGHD4-11</text>
<rect class="g" x="246" y="-6" width="11" height="13"/><text x="251.5" y="-9">IGHD5-12</text>
<rect class="g" x="311" y="-6" width="10" height="13"/><text x="316" y="-9">IGHD6-13</text>
<rect class="g" x="376" y="-6" width="10" height="13"/><text x="381" y="-9">IGHD1-14</text>
<rect class="g" x="441" y="-6" width="11" height="13"/><text x="446.5" y="-9">IGHD2-15</text>
<rect class="g" x="501" y="-6" width="21" height="13"/><text x="511.5" y="-9">IGHD3-16</text>
<rect class="g" x="571" y="-6" width="10" height="13"/><text x="576" y="-9">IGHD4-17</text>
<rect class="g" x="636" y="-6" width="11" height="13"/><text x="641.5" y="-9">IGHD5-18</text>
<rect class="g" x="701" y="-6" width="10" height="13"/><text x="706" y="-9">IGHD6-19</text>
<rect class="g" x="766" y="-6" width="10" height="13"/><text x="771" y="-9">IGHD1-20</text>
</g>
<g transform="translate(0,2310)">
<rect class="g" x="91" y="-6" width="10" height="13"/><text x="96" y="-9">IGHD3-9</text>
<rect class="g" x="150" y="-6" width="10" height="13"/><text x="155" y="-9">IGHD2-8</text>
<rect class="g" x="209" y="-6" width="11" height="13"/><text x="214.5" y="-9">IGHD1-7</text>
<rect class="g" x="268" y="-6" width="10" height="13"/><text x="273" y="-9">IGHD6-6</text>
<rect class="g" x="327" y="-6" width="10" height="13"/><text x="332" y="-9">IGHD5-5</text>
<rect class="g" x="386" y="-6" width="10" height="13"/><text x="391" y="-9">IGHD4-4</text>
<rect class="g" x="444" y="-6" width="11" height="13"/><text x="449.5" y="-9">IGHD3-3</text>
<rect class="g" x="503" y="-6" width="11" height="13"/><text x="508.5" y="-9">IGHD2-2</text>
<rect class="w" x="562.5" y="-5.5" width="10" height="12"/><text x="567.5" y="-9">IGHD1-1</text>
<rect class="d" x="612" y="-6" width="31" height="13"/><text x="627.5" y="-9">IGHV6-1</text>
<rect class="d" x="671" y="-6" width="31" height="13"/><text x="686.5" y="-9">IGHV1-2</text>
<rect class="d" x="730" y="-6" width="31" height="13"/><text x="745.5" y="-9">IGHV1-3</text>
</g>
<g transform="translate(0,2340)">
<rect class="d" x="100" y="-6" width="31" height="13"/><text x="115.5" y="-9">IGHV1-18</text>
<rect class="d" x="165" y="-6" width="31" height="13"/><text x="180.5" y="-9">IGHV3-16</text>
<rect class="d" x="230" y="-6" width="31" height="13"/><text x="245.5" y="-9">IGHV3-15</text>
<rect class="d" x="295" y="-6" width="31" height="13"/><text x="310.5" y="-9">IGHV3-13</text>
<rect class="d" x="360" y="-6" width="31" height="13"/><text x="375.5" y="-9">IGHV3-11</text>
<rect class="d" x="431" y="-6" width="31" height="13"/><text x="446.5" y="-9">IGHV5-10-1</text>
<rect class="d" x="505" y="-6" width="31" height="13"/><text x="520.5" y="-9">IGHV3-64D</text>
<rect class="d" x="570" y="-6" width="31" height="13"/><text x="585.5" y="-9">IGHV3-7</text>
<rect class="d" x="629" y="-6" width="31" height="13"/><text x="644.5" y="-9">IGHV2-5</text>
<rect class="d" x="694" y="-6" width="31" height="13"/><text x="709.5" y="-9">IGHV7-4-1</text>
<rect class="d" x="759" y="-6" width="31" height="13"/><text x="774.5" y="-9">IGHV4-4</text>
</g>
<g transform="translate(0,2370)">
<rect class="d" x="84" y="-6" width="31" height="13"/><text x="99.5" y="-9">IGHV3-20</text>
<rect class="d" x="149" y="-6" width="31" height="13"/><text x="164.5" y="-9">IGHV3-21</text>
<rect class="d" x="214" y="-6" width="31" height="13"/><text x="229.5" y="-9">IGHV3-23</text>
<rect class="d" x="279" y="-6" width="31" height="13"/><text x="294.5" y="-9">IGHV1-24</text>
<rect class="d" x="344" y="-6" width="31" height="13"/><text x="359.5" y="-9">IGHV2-26</text>
<rect class="d" x="409" y="-6" width="31" height="13"/><text x="424.5" y="-9">IGHV4-28</text>
<rect class="d" x="474" y="-6" width="31" height="13"/><text x="489.5" y="-9">IGHV3-30</text>
<rect class="d" x="539" y="-6" width="31" height="13"/><text x="554.5" y="-9">IGHV4-31</text>
<rect class="d" x="604" y="-6" width="31" height="13"/><text x="619.5" y="-9">IGHV3-33</text>
<rect class="d" x="669" y="-6" width="31" height="13"/><text x="684.5" y="-9">IGHV4-34</text>
<rect class="d" x="734" y="-6" width="31" height="13"/><text x="749.5" y="-9">IGHV3-35</text>
</g>
<g transform="translate(0,2400)">
<rect class="d" x="95" y="-6" width="31" height="13"/><text x="110.5" y="-9">IGHV1-58</text>
<rect class="d" x="159" y="-6" width="31" height="13"/><text x="174.5" y="-9">IGHV3-53</text>
<rect class="g" x="235" y="-6" width="21" height="13"/><text x="245.5" y="-9">IGHV8-51-1</text>
<rect class="d" x="302" y="-6" width="31" height="13"/><text x="317.5" y="-9">IGHV5-51</text>
<rect class="d" x="366" y="-6" width="31" height="13"/><text x="381.5" y="-9">IGHV3-49</text>
<rect class="d" x="431" y="-6" width="31" height="13"/><text x="446.5" y="-9">IGHV3-48</text>
<rect class="d" x="496" y="-6" width="31" height="13"/><text x="511.5" y="-9">IGHV1-46</text>
<rect class="d" x="561" y="-6" width="31" height="13"/><text x="576.5" y="-9">IGHV1-45</text>
<rect class="d" x="626" y="-6" width="31" height="13"/><text x="641.5" y="-9">IGHV3-43</text>
<rect class="d" x="691" y="-6" width="31" height="13"/><text x="706.5" y="-9">IGHV4-39</text>
<rect class="d" x="756" y="-6" width="31" height="13"/><text x="771.5" y="-9">IGHV3-38</text>
</g>
<g transform="translate(0,2430)">
<rect class="d" x="84" y="-6" width="31" height="13"/><text x="99.5" y="-9">IGHV4-59</text>
<rect class="d" x="149" y="-6" width="31" height="13"/><text x="164.5" y="-9">IGHV4-61</text>
<rect class="d" x="214" y="-6" width="31" height="13"/><text x="229.5" y="-9">IGHV3-64</text>
<rect class="d" x="279" y="-6" width="31" height="13"/><text x="294.5" y="-9">IGHV3-66</text>
<rect class="d" x="344" y="-6" width="31" height="13"/><text x="359.5" y="-9">IGHV1-69</text>
<rect class="d" x="412" y="-6" width="31" height="13"/><text x="427.5" y="-9">IGHV2-70D</text>
<rect class="d" x="486" y="-6" width="31" height="13"/><text x="501.5" y="-9">IGHV1-69-2</text>
<rect class="d" x="560" y="-6" width="31" height="13"/><text x="575.5" y="-9">IGHV1-69D</text>
<rect class="d" x="628" y="-6" width="31" height="13"/><text x="643.5" y="-9">IGHV2-70</text>
<rect class="d" x="693" y="-6" width="31" height="13"/><text x="708.5" y="-9">IGHV3-72</text>
<rect class="d" x="757" y="-6" width="31" height="13"/><text x="772.5" y="-9">IGHV3-73</text>
</g>
<g transform="translate(0,2460)">
<rect class="d" x="691" y="-6" width="31" height="13"/><text x="706.5" y="-9">IGHV7-81</text>
<rect class="d" x="756" y="-6" width="31" height="13"/><text x="771.5" y="-9">IGHV3-74</text>
</g>
</svg>
</body></html>
